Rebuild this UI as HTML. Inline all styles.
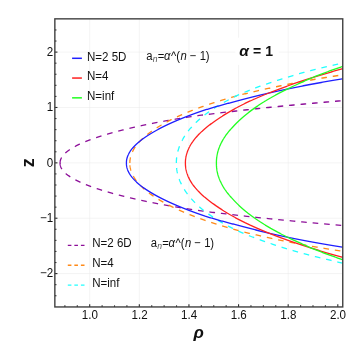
<!DOCTYPE html><html><head><meta charset="utf-8"><style>html,body{margin:0;padding:0;background:#fff}body{width:357px;height:357px;overflow:hidden;position:relative;font-family:"Liberation Sans",sans-serif}</style></head><body><svg width="357" height="357" viewBox="0 0 357 357" style="position:absolute;left:0;top:0;will-change:transform;opacity:0.999">
<defs><clipPath id="cp"><rect x="54.85" y="18.85" width="287.90" height="288.10"/></clipPath></defs>
<g stroke="#e9e9e9" stroke-width="0.5"><line x1="89.70" y1="18.85" x2="89.70" y2="306.95"/><line x1="139.32" y1="18.85" x2="139.32" y2="306.95"/><line x1="188.94" y1="18.85" x2="188.94" y2="306.95"/><line x1="238.56" y1="18.85" x2="238.56" y2="306.95"/><line x1="288.18" y1="18.85" x2="288.18" y2="306.95"/><line x1="54.85" y1="273.59" x2="342.75" y2="273.59"/><line x1="54.85" y1="218.22" x2="342.75" y2="218.22"/><line x1="54.85" y1="162.85" x2="342.75" y2="162.85"/><line x1="54.85" y1="107.48" x2="342.75" y2="107.48"/><line x1="54.85" y1="52.11" x2="342.75" y2="52.11"/></g>
<rect x="235.3" y="37.8" width="43.5" height="27.1" fill="#fff"/>
<g clip-path="url(#cp)" fill="none" stroke-width="1.3">
<path d="M60.10 163.05 L60.09 162.95 L60.09 162.70 L60.09 162.45 L60.10 162.20 L60.12 161.95 L60.14 161.70 L60.18 161.45 L60.21 161.20 L60.26 160.95 L60.31 160.70 L60.37 160.45 L60.44 160.20 L60.51 159.95 L60.59 159.70 L60.67 159.45 L60.77 159.20 L60.87 158.95 L60.98 158.70 L61.09 158.45 L61.21 158.20 L61.34 157.95 L61.48 157.70 L61.62 157.45 L61.77 157.20 L61.92 156.95 L62.09 156.70 L62.26 156.45 L62.44 156.20 L62.62 155.95 L62.81 155.70 L63.01 155.45 L63.22 155.20 L63.43 154.95 L63.65 154.70 L63.88 154.45 L64.12 154.20 L64.36 153.95 L64.61 153.70 L64.87 153.45 L65.13 153.20 L65.40 152.95 L65.68 152.70 L65.96 152.45 L66.26 152.20 L66.56 151.95 L66.87 151.70 L67.18 151.45 L67.50 151.20 L67.83 150.95 L68.17 150.70 L68.51 150.45 L68.87 150.20 L69.23 149.95 L69.59 149.70 L69.97 149.45 L70.35 149.20 L70.74 148.95 L71.14 148.70 L71.54 148.45 L71.95 148.20 L72.37 147.95 L72.80 147.70 L73.23 147.45 L73.68 147.20 L74.13 146.95 L74.58 146.70 L75.05 146.45 L75.52 146.20 L76.00 145.95 L76.49 145.70 L76.99 145.45 L77.49 145.20 L78.00 144.95 L78.52 144.70 L79.05 144.45 L79.58 144.20 L80.13 143.95 L80.68 143.70 L81.23 143.45 L81.80 143.20 L82.37 142.95 L82.95 142.70 L83.54 142.45 L84.14 142.20 L84.74 141.95 L85.36 141.70 L85.98 141.45 L86.60 141.20 L87.24 140.95 L87.88 140.70 L88.54 140.45 L89.19 140.20 L89.86 139.95 L90.54 139.70 L91.22 139.45 L91.91 139.20 L92.61 138.95 L93.32 138.70 L94.03 138.45 L94.75 138.20 L95.48 137.95 L96.22 137.70 L96.97 137.45 L97.72 137.20 L98.49 136.95 L99.26 136.70 L100.03 136.45 L100.82 136.20 L101.61 135.95 L102.42 135.70 L103.23 135.45 L104.05 135.20 L104.87 134.95 L105.71 134.70 L106.55 134.45 L107.40 134.20 L108.26 133.95 L109.13 133.70 L110.00 133.45 L110.88 133.20 L111.78 132.95 L112.68 132.70 L113.58 132.45 L114.50 132.20 L115.43 131.95 L116.36 131.70 L117.30 131.45 L118.25 131.20 L119.21 130.95 L120.18 130.70 L121.16 130.45 L122.14 130.20 L123.14 129.95 L124.14 129.70 L125.15 129.45 L126.17 129.20 L127.20 128.95 L128.24 128.70 L129.29 128.45 L130.34 128.20 L131.41 127.95 L132.49 127.70 L133.57 127.45 L134.67 127.20 L135.77 126.95 L136.89 126.70 L138.01 126.45 L139.14 126.20 L140.29 125.95 L141.44 125.70 L142.61 125.45 L143.78 125.20 L144.97 124.95 L146.17 124.70 L147.38 124.45 L148.59 124.20 L149.82 123.95 L151.06 123.70 L152.32 123.45 L153.58 123.20 L154.86 122.95 L156.15 122.70 L157.45 122.45 L158.76 122.20 L160.08 121.95 L161.42 121.70 L162.77 121.45 L164.13 121.20 L165.51 120.95 L166.90 120.70 L168.30 120.45 L169.72 120.20 L171.15 119.95 L172.60 119.70 L174.06 119.45 L175.53 119.20 L177.02 118.95 L178.53 118.70 L180.05 118.45 L181.59 118.20 L183.14 117.95 L184.71 117.70 L186.29 117.45 L187.89 117.20 L189.51 116.95 L191.15 116.70 L192.80 116.45 L194.47 116.20 L196.16 115.95 L197.87 115.70 L199.59 115.45 L201.33 115.21 L203.10 114.98 L204.88 114.75 L206.68 114.52 L208.50 114.29 L210.34 114.05 L212.20 113.82 L214.08 113.59 L215.98 113.36 L217.91 113.13 L219.85 112.90 L221.82 112.67 L223.80 112.44 L225.81 112.21 L227.84 111.98 L229.89 111.75 L231.97 111.50 L234.06 111.25 L236.18 111.00 L238.33 110.75 L240.49 110.50 L242.68 110.25 L244.89 110.00 L247.12 109.75 L249.38 109.50 L251.66 109.25 L253.96 109.00 L256.29 108.75 L258.63 108.50 L261.01 108.25 L263.40 108.00 L265.82 107.75 L268.26 107.50 L270.72 107.25 L273.21 107.00 L275.71 106.75 L278.24 106.50 L280.79 106.25 L283.36 106.00 L285.95 105.75 L288.56 105.50 L291.20 105.25 L293.85 105.00 L296.52 104.75 L299.20 104.50 L301.91 104.25 L304.63 104.00 L307.36 103.75 L310.11 103.50 L312.88 103.25 L315.66 103.00 L318.45 102.75 L321.25 102.50 L324.06 102.25 L326.87 102.00 L329.70 101.75 L332.53 101.50 L335.36 101.25 L338.20 101.00 L341.03 100.75 L343.86 100.50 L346.70 100.25 L349.52 100.00 L352.34 99.75" stroke="#8d0f99" stroke-dasharray="5.80 5.88 5.65 5.88 5.65 5.88 5.65 5.88 5.65 5.88 5.65 5.88 5.65 5.88 5.65 5.88 5.65 5.88 5.65 5.88 5.65 5.88 5.65 5.88 5.65 5.88 5.65 5.88 5.65 5.88 5.65 5.88 5.65 5.88 5.65 5.88 5.65 5.88 5.65 5.88 5.65 5.88 5.65 5.88 5.65 5.88 5.65 5.88 5.65 5.88 5.65 5.88 5.65 5.88 5.65 5.88 5.65 5.88 5.65 5.88 5.65 5.88 5.65 5.88 5.65 5.88 5.65 5.88 5.65 5.88 5.65 5.88 5.65 5.88 5.65 5.88 5.65 5.88 5.65 5.88 5.65 5.88" stroke-linejoin="round"/>
<path d="M60.10 163.05 L60.09 163.15 L60.09 163.40 L60.09 163.65 L60.10 163.90 L60.12 164.15 L60.14 164.40 L60.18 164.65 L60.21 164.90 L60.26 165.15 L60.31 165.40 L60.37 165.65 L60.44 165.90 L60.51 166.15 L60.59 166.40 L60.67 166.65 L60.77 166.90 L60.87 167.15 L60.98 167.40 L61.09 167.65 L61.21 167.90 L61.34 168.15 L61.48 168.40 L61.62 168.65 L61.77 168.90 L61.92 169.15 L62.09 169.40 L62.26 169.65 L62.44 169.90 L62.62 170.15 L62.81 170.40 L63.01 170.65 L63.22 170.90 L63.43 171.15 L63.65 171.40 L63.88 171.65 L64.12 171.90 L64.36 172.15 L64.61 172.40 L64.87 172.65 L65.13 172.90 L65.40 173.15 L65.68 173.40 L65.96 173.65 L66.26 173.90 L66.56 174.15 L66.87 174.40 L67.18 174.65 L67.50 174.90 L67.83 175.15 L68.17 175.40 L68.51 175.65 L68.87 175.90 L69.23 176.15 L69.59 176.40 L69.97 176.65 L70.35 176.90 L70.74 177.15 L71.14 177.40 L71.54 177.65 L71.95 177.90 L72.37 178.15 L72.80 178.40 L73.23 178.65 L73.68 178.90 L74.13 179.15 L74.58 179.40 L75.05 179.65 L75.52 179.90 L76.00 180.15 L76.49 180.40 L76.99 180.65 L77.49 180.90 L78.00 181.15 L78.52 181.40 L79.05 181.65 L79.58 181.90 L80.13 182.15 L80.68 182.40 L81.23 182.65 L81.80 182.90 L82.37 183.15 L82.95 183.40 L83.54 183.65 L84.14 183.90 L84.74 184.15 L85.36 184.40 L85.98 184.65 L86.60 184.90 L87.24 185.15 L87.88 185.40 L88.54 185.65 L89.19 185.90 L89.86 186.15 L90.54 186.40 L91.22 186.65 L91.91 186.90 L92.61 187.15 L93.32 187.40 L94.03 187.65 L94.75 187.90 L95.48 188.15 L96.22 188.40 L96.97 188.65 L97.72 188.90 L98.49 189.15 L99.26 189.40 L100.03 189.65 L100.82 189.90 L101.61 190.15 L102.42 190.40 L103.23 190.65 L104.05 190.90 L104.87 191.15 L105.71 191.40 L106.55 191.65 L107.40 191.90 L108.26 192.15 L109.13 192.40 L110.00 192.65 L110.88 192.90 L111.78 193.15 L112.68 193.40 L113.58 193.65 L114.50 193.90 L115.43 194.15 L116.36 194.40 L117.30 194.65 L118.25 194.90 L119.21 195.15 L120.18 195.40 L121.16 195.65 L122.14 195.90 L123.14 196.15 L124.14 196.40 L125.15 196.65 L126.17 196.90 L127.20 197.15 L128.24 197.40 L129.29 197.65 L130.34 197.90 L131.41 198.15 L132.49 198.40 L133.57 198.65 L134.67 198.90 L135.77 199.15 L136.89 199.40 L138.01 199.65 L139.14 199.90 L140.29 200.15 L141.44 200.40 L142.61 200.65 L143.78 200.90 L144.97 201.15 L146.17 201.40 L147.38 201.65 L148.59 201.90 L149.82 202.15 L151.06 202.40 L152.32 202.65 L153.58 202.90 L154.86 203.15 L156.15 203.40 L157.45 203.65 L158.76 203.90 L160.08 204.15 L161.42 204.40 L162.77 204.65 L164.13 204.90 L165.51 205.15 L166.90 205.40 L168.30 205.65 L169.72 205.90 L171.15 206.15 L172.60 206.40 L174.06 206.65 L175.53 206.90 L177.02 207.15 L178.53 207.40 L180.05 207.65 L181.59 207.90 L183.14 208.15 L184.71 208.40 L186.29 208.65 L187.89 208.90 L189.51 209.15 L191.15 209.40 L192.80 209.65 L194.47 209.90 L196.16 210.15 L197.87 210.40 L199.59 210.65 L201.33 210.89 L203.10 211.12 L204.88 211.35 L206.68 211.58 L208.50 211.81 L210.34 212.05 L212.20 212.28 L214.08 212.51 L215.98 212.74 L217.91 212.97 L219.85 213.20 L221.82 213.43 L223.80 213.66 L225.81 213.89 L227.84 214.12 L229.89 214.35 L231.97 214.60 L234.06 214.85 L236.18 215.10 L238.33 215.35 L240.49 215.60 L242.68 215.85 L244.89 216.10 L247.12 216.35 L249.38 216.60 L251.66 216.85 L253.96 217.10 L256.29 217.35 L258.63 217.60 L261.01 217.85 L263.40 218.10 L265.82 218.35 L268.26 218.60 L270.72 218.85 L273.21 219.10 L275.71 219.35 L278.24 219.60 L280.79 219.85 L283.36 220.10 L285.95 220.35 L288.56 220.60 L291.20 220.85 L293.85 221.10 L296.52 221.35 L299.20 221.60 L301.91 221.85 L304.63 222.10 L307.36 222.35 L310.11 222.60 L312.88 222.85 L315.66 223.10 L318.45 223.35 L321.25 223.60 L324.06 223.85 L326.87 224.10 L329.70 224.35 L332.53 224.60 L335.36 224.85 L338.20 225.10 L341.03 225.35 L343.86 225.60 L346.70 225.85 L349.52 226.10 L352.34 226.35" stroke="#8d0f99" stroke-dasharray="6.40 5.88 5.65 5.88 5.65 5.88 5.65 5.88 5.65 5.88 5.65 5.88 5.65 5.88 5.65 5.88 5.65 5.88 5.65 5.88 5.65 5.88 5.65 5.88 5.65 5.88 5.65 5.88 5.65 5.88 5.65 5.88 5.65 5.88 5.65 5.88 5.65 5.88 5.65 5.88 5.65 5.88 5.65 5.88 5.65 5.88 5.65 5.88 5.65 5.88 5.65 5.88 5.65 5.88 5.65 5.88 5.65 5.88 5.65 5.88 5.65 5.88 5.65 5.88 5.65 5.88 5.65 5.88 5.65 5.88 5.65 5.88 5.65 5.88 5.65 5.88 5.65 5.88 5.65 5.88 5.65 5.88" stroke-linejoin="round"/>
<path d="M129.86 163.00 L129.86 162.95 L129.86 162.70 L129.86 162.45 L129.87 162.20 L129.87 161.95 L129.88 161.70 L129.90 161.45 L129.91 161.20 L129.93 160.95 L129.95 160.70 L129.97 160.45 L130.00 160.20 L130.02 159.95 L130.06 159.70 L130.09 159.45 L130.13 159.20 L130.16 158.95 L130.21 158.70 L130.25 158.45 L130.30 158.20 L130.35 157.95 L130.40 157.70 L130.45 157.45 L130.51 157.20 L130.57 156.95 L130.64 156.70 L130.70 156.45 L130.77 156.20 L130.84 155.95 L130.92 155.70 L130.99 155.45 L131.07 155.20 L131.16 154.95 L131.24 154.70 L131.33 154.45 L131.42 154.20 L131.51 153.95 L131.61 153.70 L131.71 153.45 L131.81 153.20 L131.91 152.95 L132.02 152.70 L132.13 152.45 L132.24 152.20 L132.35 151.95 L132.47 151.70 L132.59 151.45 L132.71 151.20 L132.84 150.95 L132.97 150.70 L133.10 150.45 L133.23 150.20 L133.37 149.95 L133.51 149.70 L133.65 149.45 L133.80 149.20 L133.94 148.95 L134.09 148.70 L134.25 148.45 L134.40 148.20 L134.56 147.95 L134.72 147.70 L134.89 147.45 L135.06 147.20 L135.22 146.95 L135.40 146.70 L135.57 146.45 L135.75 146.20 L135.93 145.95 L136.12 145.70 L136.30 145.45 L136.49 145.20 L136.68 144.95 L136.88 144.70 L137.08 144.45 L137.28 144.20 L137.48 143.95 L137.69 143.70 L137.89 143.45 L138.11 143.20 L138.32 142.95 L138.54 142.70 L138.76 142.45 L138.98 142.20 L139.21 141.95 L139.44 141.70 L139.67 141.45 L139.90 141.20 L140.14 140.95 L140.38 140.70 L140.62 140.45 L140.87 140.20 L141.12 139.95 L141.37 139.70 L141.62 139.45 L141.88 139.20 L142.14 138.95 L142.40 138.70 L142.67 138.45 L142.94 138.20 L143.21 137.95 L143.48 137.70 L143.76 137.45 L144.04 137.20 L144.32 136.95 L144.61 136.70 L144.90 136.45 L145.19 136.20 L145.49 135.95 L145.78 135.70 L146.08 135.45 L146.39 135.20 L146.70 134.95 L147.01 134.70 L147.32 134.45 L147.63 134.20 L147.95 133.95 L148.27 133.70 L148.60 133.45 L148.93 133.20 L149.26 132.95 L149.59 132.70 L149.93 132.45 L150.27 132.20 L150.61 131.95 L150.96 131.70 L151.30 131.45 L151.66 131.20 L152.01 130.95 L152.37 130.70 L152.73 130.45 L153.09 130.20 L153.46 129.95 L153.83 129.70 L154.20 129.45 L154.58 129.20 L154.96 128.95 L155.34 128.70 L155.73 128.45 L156.12 128.20 L156.51 127.95 L156.90 127.70 L157.30 127.45 L157.70 127.20 L158.11 126.95 L158.52 126.70 L158.93 126.45 L159.34 126.20 L159.76 125.95 L160.18 125.70 L160.60 125.45 L161.03 125.20 L161.46 124.95 L161.89 124.70 L162.33 124.45 L162.77 124.20 L163.21 123.95 L163.66 123.70 L164.11 123.45 L164.56 123.20 L165.02 122.95 L165.48 122.70 L165.94 122.45 L166.41 122.20 L166.88 121.95 L167.35 121.70 L167.83 121.45 L168.30 121.20 L168.79 120.95 L169.27 120.70 L169.76 120.45 L170.26 120.20 L170.75 119.95 L171.25 119.70 L171.76 119.45 L172.26 119.20 L172.77 118.95 L173.29 118.70 L173.81 118.45 L174.33 118.20 L174.85 117.95 L175.38 117.70 L175.91 117.45 L176.44 117.20 L176.98 116.95 L177.53 116.70 L178.07 116.45 L178.62 116.20 L179.17 115.95 L179.73 115.70 L180.29 115.45 L180.85 115.20 L181.42 114.95 L181.99 114.70 L182.57 114.45 L183.15 114.20 L183.73 113.95 L184.31 113.70 L184.90 113.45 L185.50 113.20 L186.09 112.95 L186.70 112.70 L187.30 112.45 L187.91 112.20 L188.52 111.95 L189.14 111.70 L189.76 111.45 L190.38 111.20 L191.01 110.95 L191.65 110.70 L192.28 110.45 L192.92 110.20 L193.57 109.95 L194.22 109.70 L194.87 109.45 L195.52 109.20 L196.18 108.95 L196.85 108.70 L197.52 108.45 L198.19 108.20 L198.87 107.95 L199.55 107.70 L200.24 107.45 L200.93 107.20 L201.62 106.95 L202.32 106.70 L203.02 106.45 L203.73 106.20 L204.44 105.95 L205.16 105.70 L205.88 105.45 L206.60 105.20 L207.33 104.95 L208.06 104.70 L208.80 104.45 L209.54 104.20 L210.29 103.95 L211.04 103.70 L211.80 103.45 L212.56 103.20 L213.33 102.95 L214.10 102.70 L214.87 102.45 L215.65 102.20 L216.44 101.95 L217.23 101.70 L218.02 101.45 L218.82 101.20 L219.63 100.95 L220.44 100.70 L221.25 100.45 L222.07 100.20 L222.89 99.95 L223.72 99.70 L224.56 99.45 L225.40 99.20 L226.24 98.95 L227.09 98.70 L227.95 98.45 L228.81 98.20 L229.68 97.95 L230.55 97.70 L231.43 97.45 L232.31 97.20 L233.20 96.95 L234.09 96.70 L234.99 96.45 L235.90 96.20 L236.81 95.95 L237.72 95.70 L238.65 95.45 L239.57 95.20 L240.51 94.96 L241.45 94.71 L242.39 94.47 L243.35 94.23 L244.30 93.99 L245.27 93.75 L246.24 93.51 L247.22 93.27 L248.20 93.03 L249.19 92.79 L250.18 92.55 L251.19 92.31 L252.19 92.07 L253.21 91.83 L254.23 91.59 L255.26 91.35 L256.30 91.11 L257.34 90.87 L258.39 90.63 L259.44 90.39 L260.51 90.16 L261.57 89.92 L262.65 89.68 L263.74 89.44 L264.83 89.20 L265.93 88.96 L267.03 88.72 L268.15 88.48 L269.27 88.24 L270.39 88.00 L271.53 87.75 L272.68 87.50 L273.83 87.25 L274.99 87.00 L276.15 86.75 L277.33 86.50 L278.51 86.25 L279.71 86.00 L280.91 85.75 L282.11 85.50 L283.33 85.25 L284.56 85.00 L285.79 84.75 L287.03 84.50 L288.28 84.25 L289.54 84.00 L290.81 83.75 L292.09 83.50 L293.38 83.25 L294.68 83.00 L295.98 82.75 L297.30 82.50 L298.62 82.25 L299.96 82.00 L301.30 81.75 L302.65 81.50 L304.02 81.25 L305.39 81.00 L306.78 80.75 L308.17 80.50 L309.57 80.25 L310.99 80.00 L312.41 79.75 L313.85 79.50 L315.30 79.25 L316.76 79.00 L318.22 78.75 L319.70 78.50 L321.20 78.25 L322.70 78.00 L324.21 77.75 L325.74 77.50 L327.28 77.25 L328.82 77.00 L330.39 76.75 L331.96 76.50 L333.54 76.25 L335.14 76.00 L336.75 75.75 L338.38 75.50 L340.01 75.25 L341.66 75.00 L343.32 74.75 L345.00 74.50 L346.69 74.25 L348.39 74.00 L350.11 73.75 L351.84 73.50" stroke="#ff8a18" stroke-dasharray="5.65 5.88" stroke-linejoin="round"/>
<path d="M129.93 165.20 L129.95 165.40 L129.97 165.65 L130.00 165.90 L130.02 166.15 L130.06 166.40 L130.09 166.65 L130.13 166.90 L130.16 167.15 L130.21 167.40 L130.25 167.65 L130.30 167.90 L130.35 168.15 L130.40 168.40 L130.45 168.65 L130.51 168.90 L130.57 169.15 L130.64 169.40 L130.70 169.65 L130.77 169.90 L130.84 170.15 L130.92 170.40 L130.99 170.65 L131.07 170.90 L131.16 171.15 L131.24 171.40 L131.33 171.65 L131.42 171.90 L131.51 172.15 L131.61 172.40 L131.71 172.65 L131.81 172.90 L131.91 173.15 L132.02 173.40 L132.13 173.65 L132.24 173.90 L132.35 174.15 L132.47 174.40 L132.59 174.65 L132.71 174.90 L132.84 175.15 L132.97 175.40 L133.10 175.65 L133.23 175.90 L133.37 176.15 L133.51 176.40 L133.65 176.65 L133.80 176.90 L133.94 177.15 L134.09 177.40 L134.25 177.65 L134.40 177.90 L134.56 178.15 L134.72 178.40 L134.89 178.65 L135.06 178.90 L135.22 179.15 L135.40 179.40 L135.57 179.65 L135.75 179.90 L135.93 180.15 L136.12 180.40 L136.30 180.65 L136.49 180.90 L136.68 181.15 L136.88 181.40 L137.08 181.65 L137.28 181.90 L137.48 182.15 L137.69 182.40 L137.89 182.65 L138.11 182.90 L138.32 183.15 L138.54 183.40 L138.76 183.65 L138.98 183.90 L139.21 184.15 L139.44 184.40 L139.67 184.65 L139.90 184.90 L140.14 185.15 L140.38 185.40 L140.62 185.65 L140.87 185.90 L141.12 186.15 L141.37 186.40 L141.62 186.65 L141.88 186.90 L142.14 187.15 L142.40 187.40 L142.67 187.65 L142.94 187.90 L143.21 188.15 L143.48 188.40 L143.76 188.65 L144.04 188.90 L144.32 189.15 L144.61 189.40 L144.90 189.65 L145.19 189.90 L145.49 190.15 L145.78 190.40 L146.08 190.65 L146.39 190.90 L146.70 191.15 L147.01 191.40 L147.32 191.65 L147.63 191.90 L147.95 192.15 L148.27 192.40 L148.60 192.65 L148.93 192.90 L149.26 193.15 L149.59 193.40 L149.93 193.65 L150.27 193.90 L150.61 194.15 L150.96 194.40 L151.30 194.65 L151.66 194.90 L152.01 195.15 L152.37 195.40 L152.73 195.65 L153.09 195.90 L153.46 196.15 L153.83 196.40 L154.20 196.65 L154.58 196.90 L154.96 197.15 L155.34 197.40 L155.73 197.65 L156.12 197.90 L156.51 198.15 L156.90 198.40 L157.30 198.65 L157.70 198.90 L158.11 199.15 L158.52 199.40 L158.93 199.65 L159.34 199.90 L159.76 200.15 L160.18 200.40 L160.60 200.65 L161.03 200.90 L161.46 201.15 L161.89 201.40 L162.33 201.65 L162.77 201.90 L163.21 202.15 L163.66 202.40 L164.11 202.65 L164.56 202.90 L165.02 203.15 L165.48 203.40 L165.94 203.65 L166.41 203.90 L166.88 204.15 L167.35 204.40 L167.83 204.65 L168.30 204.90 L168.79 205.15 L169.27 205.40 L169.76 205.65 L170.26 205.90 L170.75 206.15 L171.25 206.40 L171.76 206.65 L172.26 206.90 L172.77 207.15 L173.29 207.40 L173.81 207.65 L174.33 207.90 L174.85 208.15 L175.38 208.40 L175.91 208.65 L176.44 208.90 L176.98 209.15 L177.53 209.40 L178.07 209.65 L178.62 209.90 L179.17 210.15 L179.73 210.40 L180.29 210.65 L180.85 210.90 L181.42 211.15 L181.99 211.40 L182.57 211.65 L183.15 211.90 L183.73 212.15 L184.31 212.40 L184.90 212.65 L185.50 212.90 L186.09 213.15 L186.70 213.40 L187.30 213.65 L187.91 213.90 L188.52 214.15 L189.14 214.40 L189.76 214.65 L190.38 214.90 L191.01 215.15 L191.65 215.40 L192.28 215.65 L192.92 215.90 L193.57 216.15 L194.22 216.40 L194.87 216.65 L195.52 216.90 L196.18 217.15 L196.85 217.40 L197.52 217.65 L198.19 217.90 L198.87 218.15 L199.55 218.40 L200.24 218.65 L200.93 218.90 L201.62 219.15 L202.32 219.40 L203.02 219.65 L203.73 219.90 L204.44 220.15 L205.16 220.40 L205.88 220.65 L206.60 220.90 L207.33 221.15 L208.06 221.40 L208.80 221.65 L209.54 221.90 L210.29 222.15 L211.04 222.40 L211.80 222.65 L212.56 222.90 L213.33 223.15 L214.10 223.40 L214.87 223.65 L215.65 223.90 L216.44 224.15 L217.23 224.40 L218.02 224.65 L218.82 224.90 L219.63 225.15 L220.44 225.40 L221.25 225.65 L222.07 225.90 L222.89 226.15 L223.72 226.40 L224.56 226.65 L225.40 226.90 L226.24 227.15 L227.09 227.40 L227.95 227.65 L228.81 227.90 L229.68 228.15 L230.55 228.40 L231.43 228.65 L232.31 228.90 L233.20 229.15 L234.09 229.40 L234.99 229.65 L235.90 229.90 L236.81 230.15 L237.72 230.40 L238.65 230.65 L239.57 230.90 L240.51 231.14 L241.45 231.39 L242.39 231.63 L243.35 231.87 L244.30 232.11 L245.27 232.35 L246.24 232.59 L247.22 232.83 L248.20 233.07 L249.19 233.31 L250.18 233.55 L251.19 233.79 L252.19 234.03 L253.21 234.27 L254.23 234.51 L255.26 234.75 L256.30 234.99 L257.34 235.23 L258.39 235.47 L259.44 235.71 L260.51 235.94 L261.57 236.18 L262.65 236.42 L263.74 236.66 L264.83 236.90 L265.93 237.14 L267.03 237.38 L268.15 237.62 L269.27 237.86 L270.39 238.10 L271.53 238.35 L272.68 238.60 L273.83 238.85 L274.99 239.10 L276.15 239.35 L277.33 239.60 L278.51 239.85 L279.71 240.10 L280.91 240.35 L282.11 240.60 L283.33 240.85 L284.56 241.10 L285.79 241.35 L287.03 241.60 L288.28 241.85 L289.54 242.10 L290.81 242.35 L292.09 242.60 L293.38 242.85 L294.68 243.10 L295.98 243.35 L297.30 243.60 L298.62 243.85 L299.96 244.10 L301.30 244.35 L302.65 244.60 L304.02 244.85 L305.39 245.10 L306.78 245.35 L308.17 245.60 L309.57 245.85 L310.99 246.10 L312.41 246.35 L313.85 246.60 L315.30 246.85 L316.76 247.10 L318.22 247.35 L319.70 247.60 L321.20 247.85 L322.70 248.10 L324.21 248.35 L325.74 248.60 L327.28 248.85 L328.82 249.10 L330.39 249.35 L331.96 249.60 L333.54 249.85 L335.14 250.10 L336.75 250.35 L338.38 250.60 L340.01 250.85 L341.66 251.10 L343.32 251.35 L345.00 251.60 L346.69 251.85 L348.39 252.10 L350.11 252.35 L351.84 252.60" stroke="#ff8a18" stroke-dasharray="5.65 5.88" stroke-linejoin="round"/>
<path d="M176.36 163.00 L176.36 162.95 L176.36 162.70 L176.36 162.45 L176.37 162.20 L176.37 161.95 L176.37 161.70 L176.38 161.45 L176.39 161.20 L176.40 160.95 L176.41 160.70 L176.42 160.45 L176.43 160.20 L176.45 159.95 L176.47 159.70 L176.48 159.45 L176.50 159.20 L176.52 158.95 L176.55 158.70 L176.57 158.45 L176.59 158.20 L176.62 157.95 L176.65 157.70 L176.68 157.45 L176.71 157.20 L176.74 156.95 L176.78 156.70 L176.81 156.45 L176.85 156.20 L176.89 155.95 L176.92 155.70 L176.97 155.45 L177.01 155.20 L177.05 154.95 L177.10 154.70 L177.14 154.45 L177.19 154.20 L177.24 153.95 L177.29 153.70 L177.34 153.45 L177.40 153.20 L177.45 152.95 L177.51 152.70 L177.57 152.45 L177.63 152.20 L177.69 151.95 L177.75 151.70 L177.82 151.45 L177.88 151.20 L177.95 150.95 L178.02 150.70 L178.09 150.45 L178.16 150.20 L178.23 149.95 L178.31 149.70 L178.38 149.45 L178.46 149.20 L178.54 148.95 L178.62 148.70 L178.70 148.45 L178.79 148.20 L178.87 147.95 L178.96 147.70 L179.05 147.45 L179.14 147.20 L179.23 146.95 L179.32 146.70 L179.41 146.45 L179.51 146.20 L179.60 145.95 L179.70 145.70 L179.80 145.45 L179.90 145.20 L180.01 144.95 L180.11 144.70 L180.22 144.45 L180.33 144.20 L180.44 143.95 L180.55 143.70 L180.66 143.45 L180.77 143.20 L180.89 142.95 L181.00 142.70 L181.12 142.45 L181.24 142.20 L181.36 141.95 L181.49 141.70 L181.61 141.45 L181.74 141.20 L181.87 140.95 L181.99 140.70 L182.13 140.45 L182.26 140.20 L182.39 139.95 L182.53 139.70 L182.67 139.45 L182.80 139.20 L182.94 138.95 L183.09 138.70 L183.23 138.45 L183.38 138.20 L183.52 137.95 L183.67 137.70 L183.82 137.45 L183.97 137.20 L184.13 136.95 L184.28 136.70 L184.44 136.45 L184.60 136.20 L184.76 135.95 L184.92 135.70 L185.08 135.45 L185.25 135.20 L185.41 134.95 L185.58 134.70 L185.75 134.45 L185.92 134.20 L186.10 133.95 L186.27 133.70 L186.45 133.45 L186.63 133.20 L186.81 132.95 L186.99 132.70 L187.17 132.45 L187.36 132.20 L187.54 131.95 L187.73 131.70 L187.92 131.45 L188.12 131.20 L188.31 130.95 L188.51 130.70 L188.70 130.45 L188.90 130.20 L189.10 129.95 L189.31 129.70 L189.51 129.45 L189.72 129.20 L189.93 128.95 L190.14 128.70 L190.35 128.45 L190.56 128.20 L190.78 127.95 L190.99 127.70 L191.21 127.45 L191.43 127.20 L191.66 126.95 L191.88 126.70 L192.11 126.45 L192.33 126.20 L192.56 125.95 L192.80 125.70 L193.03 125.45 L193.27 125.20 L193.50 124.95 L193.74 124.70 L193.98 124.45 L194.23 124.20 L194.47 123.95 L194.72 123.70 L194.97 123.45 L195.22 123.20 L195.47 122.95 L195.73 122.70 L195.99 122.45 L196.24 122.20 L196.51 121.95 L196.77 121.70 L197.03 121.45 L197.30 121.20 L197.57 120.95 L197.84 120.70 L198.11 120.45 L198.39 120.20 L198.66 119.95 L198.94 119.70 L199.22 119.45 L199.51 119.20 L199.79 118.95 L200.08 118.70 L200.37 118.45 L200.66 118.20 L200.96 117.95 L201.25 117.70 L201.55 117.45 L201.85 117.20 L202.15 116.95 L202.46 116.70 L202.76 116.45 L203.07 116.20 L203.38 115.95 L203.69 115.70 L204.01 115.45 L204.33 115.20 L204.65 114.95 L204.97 114.70 L205.29 114.45 L205.62 114.20 L205.95 113.95 L206.28 113.70 L206.61 113.45 L206.95 113.20 L207.29 112.95 L207.63 112.70 L207.97 112.45 L208.31 112.20 L208.66 111.95 L209.01 111.70 L209.36 111.45 L209.72 111.20 L210.07 110.95 L210.43 110.70 L210.79 110.45 L211.16 110.20 L211.52 109.95 L211.89 109.70 L212.26 109.45 L212.64 109.20 L213.01 108.95 L213.39 108.70 L213.77 108.45 L214.16 108.20 L214.54 107.95 L214.93 107.70 L215.32 107.45 L215.72 107.20 L216.11 106.95 L216.51 106.70 L216.91 106.45 L217.32 106.20 L217.73 105.95 L218.14 105.70 L218.55 105.45 L218.96 105.20 L219.38 104.95 L219.80 104.70 L220.22 104.45 L220.65 104.20 L221.08 103.95 L221.51 103.70 L221.94 103.45 L222.38 103.20 L222.82 102.95 L223.26 102.70 L223.71 102.45 L224.15 102.20 L224.60 101.95 L225.06 101.70 L225.51 101.45 L225.97 101.20 L226.44 100.95 L226.90 100.70 L227.37 100.45 L227.84 100.20 L228.31 99.95 L228.79 99.70 L229.27 99.45 L229.75 99.20 L230.24 98.95 L230.73 98.70 L231.22 98.45 L231.72 98.20 L232.22 97.95 L232.72 97.70 L233.22 97.45 L233.73 97.20 L234.24 96.95 L234.76 96.70 L235.27 96.45 L235.79 96.20 L236.32 95.95 L236.84 95.70 L237.37 95.45 L237.91 95.20 L238.44 94.95 L238.98 94.70 L239.53 94.45 L240.08 94.20 L240.63 93.96 L241.18 93.72 L241.74 93.47 L242.30 93.23 L242.86 92.99 L243.43 92.75 L244.00 92.50 L244.57 92.26 L245.15 92.02 L245.73 91.78 L246.32 91.53 L246.91 91.29 L247.50 91.05 L248.09 90.81 L248.69 90.57 L249.30 90.32 L249.90 90.08 L250.51 89.84 L251.13 89.60 L251.75 89.36 L252.37 89.11 L252.99 88.87 L253.62 88.63 L254.26 88.39 L254.89 88.15 L255.54 87.91 L256.18 87.67 L256.83 87.42 L257.48 87.18 L258.14 86.94 L258.80 86.70 L259.46 86.46 L260.13 86.22 L260.81 85.98 L261.48 85.74 L262.16 85.50 L262.85 85.25 L263.54 85.01 L264.23 84.77 L264.93 84.53 L265.63 84.29 L266.34 84.05 L267.05 83.81 L267.76 83.57 L268.48 83.33 L269.20 83.09 L269.93 82.85 L270.66 82.60 L271.40 82.34 L272.14 82.09 L272.89 81.84 L273.64 81.59 L274.39 81.33 L275.15 81.08 L275.91 80.83 L276.68 80.57 L277.45 80.32 L278.23 80.07 L279.01 79.81 L279.80 79.56 L280.59 79.31 L281.39 79.05 L282.19 78.80 L282.99 78.55 L283.81 78.29 L284.62 78.04 L285.44 77.79 L286.27 77.53 L287.10 77.28 L287.93 77.03 L288.77 76.77 L289.62 76.52 L290.47 76.27 L291.32 76.01 L292.18 75.76 L293.05 75.51 L293.92 75.25 L294.80 75.00 L295.68 74.75 L296.57 74.49 L297.46 74.24 L298.36 73.99 L299.26 73.73 L300.17 73.48 L301.08 73.23 L302.00 72.97 L302.92 72.72 L303.85 72.46 L304.79 72.21 L305.73 71.96 L306.68 71.70 L307.63 71.45 L308.59 71.20 L309.55 70.94 L310.52 70.69 L311.50 70.43 L312.48 70.18 L313.47 69.93 L314.46 69.67 L315.46 69.42 L316.47 69.16 L317.48 68.91 L318.50 68.66 L319.52 68.40 L320.55 68.15 L321.58 67.89 L322.63 67.64 L323.67 67.39 L324.73 67.13 L325.79 66.88 L326.86 66.62 L327.93 66.37 L329.01 66.11 L330.09 65.86 L331.19 65.61 L332.29 65.35 L333.39 65.10 L334.50 64.84 L335.62 64.59 L336.75 64.33 L337.88 64.08 L339.02 63.82 L340.17 63.57 L341.32 63.31 L342.48 63.06 L343.65 62.81 L344.82 62.55 L346.00 62.30 L347.19 62.05 L348.38 61.80 L349.58 61.55 L350.79 61.30" stroke="#20ffff" stroke-dasharray="5.65 5.88" stroke-linejoin="round"/>
<path d="M176.59 167.89 L176.59 167.90 L176.62 168.15 L176.65 168.40 L176.68 168.65 L176.71 168.90 L176.74 169.15 L176.78 169.40 L176.81 169.65 L176.85 169.90 L176.89 170.15 L176.92 170.40 L176.97 170.65 L177.01 170.90 L177.05 171.15 L177.10 171.40 L177.14 171.65 L177.19 171.90 L177.24 172.15 L177.29 172.40 L177.34 172.65 L177.40 172.90 L177.45 173.15 L177.51 173.40 L177.57 173.65 L177.63 173.90 L177.69 174.15 L177.75 174.40 L177.82 174.65 L177.88 174.90 L177.95 175.15 L178.02 175.40 L178.09 175.65 L178.16 175.90 L178.23 176.15 L178.31 176.40 L178.38 176.65 L178.46 176.90 L178.54 177.15 L178.62 177.40 L178.70 177.65 L178.79 177.90 L178.87 178.15 L178.96 178.40 L179.05 178.65 L179.14 178.90 L179.23 179.15 L179.32 179.40 L179.41 179.65 L179.51 179.90 L179.60 180.15 L179.70 180.40 L179.80 180.65 L179.90 180.90 L180.01 181.15 L180.11 181.40 L180.22 181.65 L180.33 181.90 L180.44 182.15 L180.55 182.40 L180.66 182.65 L180.77 182.90 L180.89 183.15 L181.00 183.40 L181.12 183.65 L181.24 183.90 L181.36 184.15 L181.49 184.40 L181.61 184.65 L181.74 184.90 L181.87 185.15 L181.99 185.40 L182.13 185.65 L182.26 185.90 L182.39 186.15 L182.53 186.40 L182.67 186.65 L182.80 186.90 L182.94 187.15 L183.09 187.40 L183.23 187.65 L183.38 187.90 L183.52 188.15 L183.67 188.40 L183.82 188.65 L183.97 188.90 L184.13 189.15 L184.28 189.40 L184.44 189.65 L184.60 189.90 L184.76 190.15 L184.92 190.40 L185.08 190.65 L185.25 190.90 L185.41 191.15 L185.58 191.40 L185.75 191.65 L185.92 191.90 L186.10 192.15 L186.27 192.40 L186.45 192.65 L186.63 192.90 L186.81 193.15 L186.99 193.40 L187.17 193.65 L187.36 193.90 L187.54 194.15 L187.73 194.40 L187.92 194.65 L188.12 194.90 L188.31 195.15 L188.51 195.40 L188.70 195.65 L188.90 195.90 L189.10 196.15 L189.31 196.40 L189.51 196.65 L189.72 196.90 L189.93 197.15 L190.14 197.40 L190.35 197.65 L190.56 197.90 L190.78 198.15 L190.99 198.40 L191.21 198.65 L191.43 198.90 L191.66 199.15 L191.88 199.40 L192.11 199.65 L192.33 199.90 L192.56 200.15 L192.80 200.40 L193.03 200.65 L193.27 200.90 L193.50 201.15 L193.74 201.40 L193.98 201.65 L194.23 201.90 L194.47 202.15 L194.72 202.40 L194.97 202.65 L195.22 202.90 L195.47 203.15 L195.73 203.40 L195.99 203.65 L196.24 203.90 L196.51 204.15 L196.77 204.40 L197.03 204.65 L197.30 204.90 L197.57 205.15 L197.84 205.40 L198.11 205.65 L198.39 205.90 L198.66 206.15 L198.94 206.40 L199.22 206.65 L199.51 206.90 L199.79 207.15 L200.08 207.40 L200.37 207.65 L200.66 207.90 L200.96 208.15 L201.25 208.40 L201.55 208.65 L201.85 208.90 L202.15 209.15 L202.46 209.40 L202.76 209.65 L203.07 209.90 L203.38 210.15 L203.69 210.40 L204.01 210.65 L204.33 210.90 L204.65 211.15 L204.97 211.40 L205.29 211.65 L205.62 211.90 L205.95 212.15 L206.28 212.40 L206.61 212.65 L206.95 212.90 L207.29 213.15 L207.63 213.40 L207.97 213.65 L208.31 213.90 L208.66 214.15 L209.01 214.40 L209.36 214.65 L209.72 214.90 L210.07 215.15 L210.43 215.40 L210.79 215.65 L211.16 215.90 L211.52 216.15 L211.89 216.40 L212.26 216.65 L212.64 216.90 L213.01 217.15 L213.39 217.40 L213.77 217.65 L214.16 217.90 L214.54 218.15 L214.93 218.40 L215.32 218.65 L215.72 218.90 L216.11 219.15 L216.51 219.40 L216.91 219.65 L217.32 219.90 L217.73 220.15 L218.14 220.40 L218.55 220.65 L218.96 220.90 L219.38 221.15 L219.80 221.40 L220.22 221.65 L220.65 221.90 L221.08 222.15 L221.51 222.40 L221.94 222.65 L222.38 222.90 L222.82 223.15 L223.26 223.40 L223.71 223.65 L224.15 223.90 L224.60 224.15 L225.06 224.40 L225.51 224.65 L225.97 224.90 L226.44 225.15 L226.90 225.40 L227.37 225.65 L227.84 225.90 L228.31 226.15 L228.79 226.40 L229.27 226.65 L229.75 226.90 L230.24 227.15 L230.73 227.40 L231.22 227.65 L231.72 227.90 L232.22 228.15 L232.72 228.40 L233.22 228.65 L233.73 228.90 L234.24 229.15 L234.76 229.40 L235.27 229.65 L235.79 229.90 L236.32 230.15 L236.84 230.40 L237.37 230.65 L237.91 230.90 L238.44 231.15 L238.98 231.40 L239.53 231.65 L240.08 231.90 L240.63 232.14 L241.18 232.38 L241.74 232.63 L242.30 232.87 L242.86 233.11 L243.43 233.35 L244.00 233.60 L244.57 233.84 L245.15 234.08 L245.73 234.32 L246.32 234.57 L246.91 234.81 L247.50 235.05 L248.09 235.29 L248.69 235.53 L249.30 235.78 L249.90 236.02 L250.51 236.26 L251.13 236.50 L251.75 236.74 L252.37 236.99 L252.99 237.23 L253.62 237.47 L254.26 237.71 L254.89 237.95 L255.54 238.19 L256.18 238.43 L256.83 238.68 L257.48 238.92 L258.14 239.16 L258.80 239.40 L259.46 239.64 L260.13 239.88 L260.81 240.12 L261.48 240.36 L262.16 240.60 L262.85 240.85 L263.54 241.09 L264.23 241.33 L264.93 241.57 L265.63 241.81 L266.34 242.05 L267.05 242.29 L267.76 242.53 L268.48 242.77 L269.20 243.01 L269.93 243.25 L270.66 243.50 L271.40 243.76 L272.14 244.01 L272.89 244.26 L273.64 244.51 L274.39 244.77 L275.15 245.02 L275.91 245.27 L276.68 245.53 L277.45 245.78 L278.23 246.03 L279.01 246.29 L279.80 246.54 L280.59 246.79 L281.39 247.05 L282.19 247.30 L282.99 247.55 L283.81 247.81 L284.62 248.06 L285.44 248.31 L286.27 248.57 L287.10 248.82 L287.93 249.07 L288.77 249.33 L289.62 249.58 L290.47 249.83 L291.32 250.09 L292.18 250.34 L293.05 250.59 L293.92 250.85 L294.80 251.10 L295.68 251.35 L296.57 251.61 L297.46 251.86 L298.36 252.11 L299.26 252.37 L300.17 252.62 L301.08 252.87 L302.00 253.13 L302.92 253.38 L303.85 253.64 L304.79 253.89 L305.73 254.14 L306.68 254.40 L307.63 254.65 L308.59 254.90 L309.55 255.16 L310.52 255.41 L311.50 255.67 L312.48 255.92 L313.47 256.17 L314.46 256.43 L315.46 256.68 L316.47 256.94 L317.48 257.19 L318.50 257.44 L319.52 257.70 L320.55 257.95 L321.58 258.21 L322.63 258.46 L323.67 258.71 L324.73 258.97 L325.79 259.22 L326.86 259.48 L327.93 259.73 L329.01 259.99 L330.09 260.24 L331.19 260.49 L332.29 260.75 L333.39 261.00 L334.50 261.26 L335.62 261.51 L336.75 261.77 L337.88 262.02 L339.02 262.28 L340.17 262.53 L341.32 262.79 L342.48 263.04 L343.65 263.29 L344.82 263.55 L346.00 263.80 L347.19 264.05 L348.38 264.30 L349.58 264.55 L350.79 264.80" stroke="#20ffff" stroke-dasharray="5.65 5.88" stroke-linejoin="round"/>
<path d="M351.97 77.45 L350.33 77.70 L348.70 77.95 L347.08 78.20 L345.48 78.45 L343.88 78.70 L342.30 78.95 L340.73 79.21 L339.17 79.46 L337.62 79.71 L336.08 79.96 L334.55 80.22 L333.03 80.47 L331.52 80.72 L330.03 80.97 L328.54 81.23 L327.06 81.48 L325.60 81.73 L324.14 81.98 L322.69 82.23 L321.26 82.49 L319.83 82.74 L318.41 82.99 L317.00 83.24 L315.61 83.50 L314.22 83.75 L312.84 84.00 L311.46 84.25 L310.10 84.50 L308.75 84.76 L307.41 85.01 L306.07 85.26 L304.74 85.51 L303.43 85.76 L302.12 86.02 L300.81 86.27 L299.52 86.52 L298.24 86.77 L296.96 87.02 L295.69 87.28 L294.43 87.53 L293.18 87.78 L291.94 88.03 L290.70 88.28 L289.47 88.54 L288.25 88.79 L287.04 89.04 L285.83 89.29 L284.64 89.54 L283.44 89.79 L282.26 90.05 L281.09 90.30 L279.92 90.55 L278.75 90.80 L277.60 91.06 L276.45 91.31 L275.31 91.56 L274.18 91.81 L273.05 92.07 L271.93 92.32 L270.82 92.57 L269.71 92.82 L268.61 93.08 L267.52 93.33 L266.43 93.58 L265.35 93.83 L264.27 94.08 L263.21 94.34 L262.14 94.59 L261.09 94.84 L260.04 95.09 L258.99 95.35 L257.96 95.60 L256.93 95.85 L255.90 96.10 L254.88 96.36 L253.87 96.61 L252.86 96.86 L251.86 97.11 L250.86 97.36 L249.87 97.62 L248.88 97.87 L247.90 98.12 L246.93 98.37 L245.96 98.63 L245.00 98.88 L244.04 99.13 L243.08 99.38 L242.14 99.63 L241.19 99.89 L240.26 100.14 L239.32 100.39 L238.40 100.64 L237.48 100.89 L236.56 101.15 L235.65 101.40 L234.74 101.64 L233.84 101.87 L232.94 102.10 L232.05 102.33 L231.16 102.56 L230.28 102.79 L229.40 103.02 L228.53 103.25 L227.66 103.48 L226.80 103.71 L225.94 103.94 L225.09 104.17 L224.24 104.40 L223.39 104.63 L222.55 104.86 L221.71 105.09 L220.88 105.32 L220.06 105.55 L219.23 105.78 L218.41 106.01 L217.60 106.24 L216.79 106.48 L215.99 106.71 L215.18 106.94 L214.39 107.17 L213.59 107.40 L212.81 107.63 L212.02 107.86 L211.24 108.10 L210.47 108.33 L209.69 108.56 L208.93 108.79 L208.16 109.02 L207.40 109.26 L206.65 109.49 L205.90 109.72 L205.15 109.95 L204.40 110.20 L203.66 110.45 L202.93 110.70 L202.20 110.95 L201.47 111.20 L200.74 111.45 L200.02 111.70 L199.31 111.95 L198.60 112.20 L197.89 112.45 L197.18 112.70 L196.48 112.95 L195.78 113.20 L195.09 113.45 L194.40 113.70 L193.71 113.95 L193.03 114.20 L192.35 114.45 L191.68 114.70 L191.01 114.95 L190.34 115.20 L189.67 115.45 L189.01 115.70 L188.36 115.95 L187.70 116.20 L187.05 116.45 L186.41 116.70 L185.77 116.95 L185.13 117.20 L184.49 117.45 L183.86 117.70 L183.23 117.95 L182.61 118.20 L181.99 118.45 L181.37 118.70 L180.76 118.95 L180.14 119.20 L179.54 119.45 L178.93 119.70 L178.33 119.95 L177.74 120.20 L177.14 120.45 L176.55 120.70 L175.97 120.95 L175.39 121.20 L174.81 121.45 L174.23 121.70 L173.66 121.95 L173.09 122.20 L172.52 122.45 L171.96 122.70 L171.40 122.95 L170.85 123.20 L170.30 123.45 L169.75 123.70 L169.20 123.95 L168.66 124.20 L168.12 124.45 L167.59 124.70 L167.06 124.95 L166.53 125.20 L166.01 125.45 L165.48 125.70 L164.97 125.95 L164.45 126.20 L163.94 126.45 L163.43 126.70 L162.93 126.95 L162.43 127.20 L161.93 127.45 L161.44 127.70 L160.95 127.95 L160.46 128.20 L159.98 128.45 L159.50 128.70 L159.02 128.95 L158.54 129.20 L158.07 129.45 L157.61 129.70 L157.14 129.95 L156.68 130.20 L156.23 130.45 L155.77 130.70 L155.32 130.95 L154.88 131.20 L154.43 131.45 L153.99 131.70 L153.56 131.95 L153.12 132.20 L152.69 132.45 L152.27 132.70 L151.84 132.95 L151.42 133.20 L151.01 133.45 L150.59 133.70 L150.18 133.95 L149.78 134.20 L149.38 134.45 L148.98 134.70 L148.58 134.95 L148.19 135.20 L147.80 135.45 L147.41 135.70 L147.03 135.95 L146.65 136.20 L146.28 136.45 L145.90 136.70 L145.54 136.95 L145.17 137.20 L144.81 137.45 L144.45 137.70 L144.09 137.95 L143.74 138.20 L143.40 138.45 L143.05 138.70 L142.71 138.95 L142.37 139.20 L142.04 139.45 L141.71 139.70 L141.38 139.95 L141.06 140.20 L140.73 140.45 L140.42 140.70 L140.10 140.95 L139.79 141.20 L139.49 141.45 L139.18 141.70 L138.88 141.95 L138.59 142.20 L138.30 142.45 L138.01 142.70 L137.72 142.95 L137.44 143.20 L137.16 143.45 L136.88 143.70 L136.61 143.95 L136.34 144.20 L136.08 144.45 L135.82 144.70 L135.56 144.95 L135.31 145.20 L135.06 145.45 L134.81 145.70 L134.57 145.95 L134.33 146.20 L134.09 146.45 L133.86 146.70 L133.63 146.95 L133.40 147.20 L133.18 147.45 L132.96 147.70 L132.74 147.95 L132.53 148.20 L132.32 148.45 L132.12 148.70 L131.92 148.95 L131.72 149.20 L131.53 149.45 L131.34 149.70 L131.15 149.95 L130.97 150.20 L130.79 150.45 L130.61 150.70 L130.44 150.95 L130.27 151.20 L130.11 151.45 L129.94 151.70 L129.79 151.95 L129.63 152.20 L129.48 152.45 L129.33 152.70 L129.19 152.95 L129.05 153.20 L128.91 153.45 L128.78 153.70 L128.65 153.95 L128.53 154.20 L128.40 154.45 L128.29 154.70 L128.17 154.95 L128.06 155.20 L127.95 155.45 L127.85 155.70 L127.75 155.95 L127.65 156.20 L127.56 156.45 L127.47 156.70 L127.38 156.95 L127.30 157.20 L127.22 157.45 L127.15 157.70 L127.08 157.95 L127.01 158.20 L126.95 158.45 L126.89 158.70 L126.83 158.95 L126.78 159.20 L126.73 159.45 L126.68 159.70 L126.64 159.95 L126.60 160.20 L126.57 160.45 L126.54 160.70 L126.51 160.95 L126.48 161.20 L126.46 161.45 L126.45 161.70 L126.43 161.95 L126.43 162.20 L126.42 162.45 L126.42 162.70 L126.42 163.65 L126.43 163.90 L126.43 164.15 L126.45 164.40 L126.46 164.65 L126.48 164.90 L126.51 165.15 L126.54 165.40 L126.57 165.65 L126.60 165.90 L126.64 166.15 L126.68 166.40 L126.73 166.65 L126.78 166.90 L126.83 167.15 L126.89 167.40 L126.95 167.65 L127.01 167.90 L127.08 168.15 L127.15 168.40 L127.22 168.65 L127.30 168.90 L127.38 169.15 L127.47 169.40 L127.56 169.65 L127.65 169.90 L127.75 170.15 L127.85 170.40 L127.95 170.65 L128.06 170.90 L128.17 171.15 L128.29 171.40 L128.40 171.65 L128.53 171.90 L128.65 172.15 L128.78 172.40 L128.91 172.65 L129.05 172.90 L129.19 173.15 L129.33 173.40 L129.48 173.65 L129.63 173.90 L129.79 174.15 L129.94 174.40 L130.11 174.65 L130.27 174.90 L130.44 175.15 L130.61 175.40 L130.79 175.65 L130.97 175.90 L131.15 176.15 L131.34 176.40 L131.53 176.65 L131.72 176.90 L131.92 177.15 L132.12 177.40 L132.32 177.65 L132.53 177.90 L132.74 178.15 L132.96 178.40 L133.18 178.65 L133.40 178.90 L133.63 179.15 L133.86 179.40 L134.09 179.65 L134.33 179.90 L134.57 180.15 L134.81 180.40 L135.06 180.65 L135.31 180.90 L135.56 181.15 L135.82 181.40 L136.08 181.65 L136.34 181.90 L136.61 182.15 L136.88 182.40 L137.16 182.65 L137.44 182.90 L137.72 183.15 L138.01 183.40 L138.30 183.65 L138.59 183.90 L138.88 184.15 L139.18 184.40 L139.49 184.65 L139.79 184.90 L140.10 185.15 L140.42 185.40 L140.73 185.65 L141.06 185.90 L141.38 186.15 L141.71 186.40 L142.04 186.65 L142.37 186.90 L142.71 187.15 L143.05 187.40 L143.40 187.65 L143.74 187.90 L144.09 188.15 L144.45 188.40 L144.81 188.65 L145.17 188.90 L145.54 189.15 L145.90 189.40 L146.28 189.65 L146.65 189.90 L147.03 190.15 L147.41 190.40 L147.80 190.65 L148.19 190.90 L148.58 191.15 L148.98 191.40 L149.38 191.65 L149.78 191.90 L150.18 192.15 L150.59 192.40 L151.01 192.65 L151.42 192.90 L151.84 193.15 L152.27 193.40 L152.69 193.65 L153.12 193.90 L153.56 194.15 L153.99 194.40 L154.43 194.65 L154.88 194.90 L155.32 195.15 L155.77 195.40 L156.23 195.65 L156.68 195.90 L157.14 196.15 L157.61 196.40 L158.07 196.65 L158.54 196.90 L159.02 197.15 L159.50 197.40 L159.98 197.65 L160.46 197.90 L160.95 198.15 L161.44 198.40 L161.93 198.65 L162.43 198.90 L162.93 199.15 L163.43 199.40 L163.94 199.65 L164.45 199.90 L164.97 200.15 L165.48 200.40 L166.01 200.65 L166.53 200.90 L167.06 201.15 L167.59 201.40 L168.12 201.65 L168.66 201.90 L169.20 202.15 L169.75 202.40 L170.30 202.65 L170.85 202.90 L171.40 203.15 L171.96 203.40 L172.52 203.65 L173.09 203.90 L173.66 204.15 L174.23 204.40 L174.81 204.65 L175.39 204.90 L175.97 205.15 L176.55 205.40 L177.14 205.65 L177.74 205.90 L178.33 206.15 L178.93 206.40 L179.54 206.65 L180.14 206.90 L180.76 207.15 L181.37 207.40 L181.99 207.65 L182.61 207.90 L183.23 208.15 L183.86 208.40 L184.49 208.65 L185.13 208.90 L185.77 209.15 L186.41 209.40 L187.05 209.65 L187.70 209.90 L188.36 210.15 L189.01 210.40 L189.67 210.65 L190.34 210.90 L191.01 211.15 L191.68 211.40 L192.35 211.65 L193.03 211.90 L193.71 212.15 L194.40 212.40 L195.09 212.65 L195.78 212.90 L196.48 213.15 L197.18 213.40 L197.89 213.65 L198.60 213.90 L199.31 214.15 L200.02 214.40 L200.74 214.65 L201.47 214.90 L202.20 215.15 L202.93 215.40 L203.66 215.65 L204.40 215.90 L205.15 216.15 L205.90 216.38 L206.65 216.61 L207.40 216.84 L208.16 217.08 L208.93 217.31 L209.69 217.54 L210.47 217.77 L211.24 218.00 L212.02 218.24 L212.81 218.47 L213.59 218.70 L214.39 218.93 L215.18 219.16 L215.99 219.39 L216.79 219.62 L217.60 219.86 L218.41 220.09 L219.23 220.32 L220.06 220.55 L220.88 220.78 L221.71 221.01 L222.55 221.24 L223.39 221.47 L224.24 221.70 L225.09 221.93 L225.94 222.16 L226.80 222.39 L227.66 222.62 L228.53 222.85 L229.40 223.08 L230.28 223.31 L231.16 223.54 L232.05 223.77 L232.94 224.00 L233.84 224.23 L234.74 224.46 L235.65 224.70 L236.56 224.95 L237.48 225.21 L238.40 225.46 L239.32 225.71 L240.26 225.96 L241.19 226.21 L242.14 226.47 L243.08 226.72 L244.04 226.97 L245.00 227.22 L245.96 227.47 L246.93 227.73 L247.90 227.98 L248.88 228.23 L249.87 228.48 L250.86 228.74 L251.86 228.99 L252.86 229.24 L253.87 229.49 L254.88 229.74 L255.90 230.00 L256.93 230.25 L257.96 230.50 L258.99 230.75 L260.04 231.01 L261.09 231.26 L262.14 231.51 L263.21 231.76 L264.27 232.02 L265.35 232.27 L266.43 232.52 L267.52 232.77 L268.61 233.02 L269.71 233.28 L270.82 233.53 L271.93 233.78 L273.05 234.03 L274.18 234.29 L275.31 234.54 L276.45 234.79 L277.60 235.04 L278.75 235.30 L279.92 235.55 L281.09 235.80 L282.26 236.05 L283.44 236.31 L284.64 236.56 L285.83 236.81 L287.04 237.06 L288.25 237.31 L289.47 237.56 L290.70 237.82 L291.94 238.07 L293.18 238.32 L294.43 238.57 L295.69 238.82 L296.96 239.08 L298.24 239.33 L299.52 239.58 L300.81 239.83 L302.12 240.08 L303.43 240.34 L304.74 240.59 L306.07 240.84 L307.41 241.09 L308.75 241.34 L310.10 241.60 L311.46 241.85 L312.84 242.10 L314.22 242.35 L315.61 242.60 L317.00 242.86 L318.41 243.11 L319.83 243.36 L321.26 243.61 L322.69 243.87 L324.14 244.12 L325.60 244.37 L327.06 244.62 L328.54 244.87 L330.03 245.13 L331.52 245.38 L333.03 245.63 L334.55 245.88 L336.08 246.14 L337.62 246.39 L339.17 246.64 L340.73 246.89 L342.30 247.15 L343.88 247.40 L345.48 247.65 L347.08 247.90 L348.70 248.15 L350.33 248.40 L351.97 248.65" stroke="#1f1fff" stroke-linejoin="round"/>
<path d="M351.51 66.40 L350.54 66.65 L349.58 66.90 L348.61 67.15 L347.65 67.40 L346.70 67.65 L345.74 67.90 L344.80 68.15 L343.85 68.41 L342.91 68.67 L341.98 68.92 L341.05 69.18 L340.12 69.44 L339.19 69.70 L338.27 69.95 L337.36 70.21 L336.44 70.47 L335.53 70.73 L334.63 70.98 L333.73 71.24 L332.83 71.50 L331.94 71.75 L331.05 72.01 L330.16 72.27 L329.28 72.53 L328.40 72.78 L327.52 73.04 L326.65 73.30 L325.78 73.55 L324.92 73.81 L324.06 74.07 L323.20 74.32 L322.35 74.58 L321.50 74.84 L320.65 75.09 L319.81 75.35 L318.97 75.61 L318.13 75.86 L317.30 76.11 L316.47 76.37 L315.64 76.62 L314.82 76.88 L314.00 77.13 L313.19 77.38 L312.38 77.64 L311.57 77.89 L310.76 78.15 L309.96 78.40 L309.16 78.65 L308.37 78.91 L307.58 79.16 L306.79 79.42 L306.00 79.67 L305.22 79.92 L304.44 80.18 L303.67 80.43 L302.90 80.69 L302.13 80.94 L301.36 81.19 L300.60 81.45 L299.84 81.70 L299.08 81.95 L298.33 82.21 L297.58 82.46 L296.84 82.72 L296.09 82.97 L295.35 83.22 L294.62 83.48 L293.88 83.73 L293.15 83.98 L292.42 84.24 L291.70 84.49 L290.98 84.75 L290.26 85.00 L289.54 85.25 L288.83 85.51 L288.12 85.76 L287.42 86.01 L286.71 86.27 L286.01 86.52 L285.32 86.77 L284.62 87.03 L283.93 87.28 L283.24 87.53 L282.56 87.79 L281.87 88.04 L281.19 88.29 L280.52 88.55 L279.84 88.80 L279.17 89.05 L278.51 89.30 L277.84 89.54 L277.18 89.79 L276.52 90.04 L275.86 90.29 L275.21 90.54 L274.56 90.78 L273.91 91.03 L273.27 91.28 L272.62 91.53 L271.99 91.78 L271.35 92.03 L270.72 92.27 L270.08 92.52 L269.46 92.77 L268.83 93.02 L268.21 93.27 L267.59 93.51 L266.97 93.76 L266.36 94.01 L265.74 94.26 L265.14 94.51 L264.53 94.76 L263.93 95.00 L263.33 95.25 L262.73 95.50 L262.13 95.75 L261.54 96.00 L260.95 96.25 L260.36 96.49 L259.78 96.74 L259.19 96.99 L258.61 97.24 L258.04 97.49 L257.46 97.74 L256.89 97.98 L256.32 98.23 L255.76 98.48 L255.19 98.73 L254.63 98.98 L254.07 99.23 L253.52 99.47 L252.96 99.72 L252.41 99.97 L251.86 100.22 L251.32 100.47 L250.77 100.72 L250.23 100.96 L249.70 101.21 L249.16 101.46 L248.63 101.71 L248.10 101.96 L247.57 102.21 L247.04 102.46 L246.52 102.70 L246.00 102.95 L245.48 103.20 L244.96 103.45 L244.45 103.71 L243.94 103.96 L243.43 104.22 L242.93 104.47 L242.42 104.73 L241.92 104.98 L241.42 105.24 L240.93 105.49 L240.43 105.75 L239.94 106.00 L239.45 106.26 L238.97 106.51 L238.48 106.77 L238.00 107.02 L237.52 107.27 L237.05 107.53 L236.57 107.78 L236.10 108.04 L235.63 108.29 L235.16 108.55 L234.70 108.80 L234.24 109.06 L233.78 109.31 L233.32 109.57 L232.86 109.82 L232.41 110.08 L231.96 110.33 L231.51 110.58 L231.07 110.84 L230.62 111.09 L230.18 111.35 L229.74 111.60 L229.31 111.86 L228.87 112.11 L228.44 112.37 L228.01 112.62 L227.58 112.87 L227.16 113.13 L226.74 113.38 L226.32 113.64 L225.90 113.89 L225.48 114.15 L225.07 114.40 L224.66 114.65 L224.25 114.91 L223.84 115.16 L223.44 115.42 L223.03 115.67 L222.63 115.92 L222.24 116.18 L221.84 116.43 L221.45 116.69 L221.06 116.94 L220.67 117.19 L220.28 117.45 L219.90 117.70 L219.52 117.95 L219.14 118.21 L218.76 118.46 L218.39 118.72 L218.01 118.97 L217.64 119.22 L217.27 119.48 L216.91 119.73 L216.54 119.98 L216.18 120.24 L215.82 120.49 L215.46 120.75 L215.11 121.00 L214.76 121.24 L214.41 121.48 L214.06 121.72 L213.71 121.97 L213.37 122.21 L213.02 122.45 L212.69 122.69 L212.35 122.93 L212.01 123.17 L211.68 123.41 L211.35 123.65 L211.02 123.89 L210.69 124.14 L210.37 124.38 L210.05 124.62 L209.73 124.86 L209.41 125.10 L209.09 125.34 L208.78 125.58 L208.47 125.83 L208.16 126.07 L207.85 126.31 L207.54 126.55 L207.24 126.79 L206.94 127.04 L206.64 127.28 L206.35 127.52 L206.05 127.76 L205.76 128.00 L205.47 128.25 L205.18 128.49 L204.90 128.73 L204.61 128.97 L204.33 129.22 L204.05 129.46 L203.77 129.70 L203.50 129.94 L203.23 130.19 L202.96 130.43 L202.69 130.67 L202.42 130.91 L202.16 131.16 L201.89 131.40 L201.63 131.64 L201.37 131.89 L201.12 132.13 L200.86 132.37 L200.61 132.62 L200.36 132.86 L200.12 133.10 L199.87 133.34 L199.63 133.59 L199.39 133.83 L199.15 134.07 L198.91 134.31 L198.67 134.55 L198.44 134.79 L198.21 135.03 L197.98 135.27 L197.76 135.51 L197.53 135.75 L197.31 135.99 L197.09 136.23 L196.87 136.47 L196.65 136.72 L196.44 136.96 L196.23 137.20 L196.02 137.44 L195.81 137.68 L195.60 137.92 L195.40 138.17 L195.20 138.41 L195.00 138.65 L194.80 138.89 L194.61 139.13 L194.41 139.38 L194.22 139.62 L194.03 139.86 L193.85 140.10 L193.66 140.35 L193.48 140.59 L193.30 140.83 L193.12 141.07 L192.94 141.32 L192.77 141.56 L192.59 141.80 L192.42 142.05 L192.25 142.29 L192.09 142.53 L191.92 142.78 L191.76 143.02 L191.60 143.26 L191.44 143.51 L191.29 143.75 L191.13 144.00 L190.98 144.24 L190.83 144.48 L190.68 144.73 L190.54 144.97 L190.39 145.22 L190.25 145.46 L190.11 145.70 L189.97 145.95 L189.84 146.20 L189.71 146.45 L189.57 146.70 L189.45 146.95 L189.32 147.20 L189.19 147.45 L189.07 147.70 L188.95 147.95 L188.83 148.20 L188.71 148.45 L188.60 148.70 L188.48 148.95 L188.37 149.20 L188.26 149.45 L188.16 149.70 L188.05 149.95 L187.95 150.20 L187.85 150.45 L187.75 150.70 L187.65 150.95 L187.56 151.20 L187.47 151.45 L187.38 151.70 L187.29 151.95 L187.20 152.20 L187.12 152.45 L187.03 152.70 L186.95 152.95 L186.87 153.20 L186.80 153.45 L186.72 153.70 L186.65 153.95 L186.58 154.20 L186.51 154.45 L186.45 154.70 L186.38 154.95 L186.32 155.20 L186.26 155.45 L186.20 155.70 L186.15 155.95 L186.09 156.20 L186.04 156.45 L185.99 156.70 L185.94 156.95 L185.90 157.20 L185.85 157.45 L185.81 157.70 L185.77 157.95 L185.74 158.20 L185.70 158.45 L185.67 158.70 L185.64 158.95 L185.61 159.20 L185.58 159.45 L185.55 159.70 L185.53 159.95 L185.51 160.20 L185.49 160.45 L185.47 160.70 L185.46 160.95 L185.44 161.20 L185.43 161.45 L185.42 161.70 L185.42 161.95 L185.41 162.20 L185.41 162.45 L185.41 162.70 L185.41 163.65 L185.41 163.90 L185.42 164.15 L185.42 164.40 L185.43 164.65 L185.44 164.90 L185.46 165.15 L185.47 165.40 L185.49 165.65 L185.51 165.90 L185.53 166.15 L185.55 166.40 L185.58 166.65 L185.61 166.90 L185.64 167.15 L185.67 167.40 L185.70 167.65 L185.74 167.90 L185.77 168.15 L185.81 168.40 L185.85 168.65 L185.90 168.90 L185.94 169.15 L185.99 169.40 L186.04 169.65 L186.09 169.90 L186.15 170.15 L186.20 170.40 L186.26 170.65 L186.32 170.90 L186.38 171.15 L186.45 171.40 L186.51 171.65 L186.58 171.90 L186.65 172.15 L186.72 172.40 L186.80 172.65 L186.87 172.90 L186.95 173.15 L187.03 173.40 L187.12 173.65 L187.20 173.90 L187.29 174.15 L187.38 174.40 L187.47 174.65 L187.56 174.90 L187.65 175.15 L187.75 175.40 L187.85 175.65 L187.95 175.90 L188.05 176.15 L188.16 176.40 L188.26 176.65 L188.37 176.90 L188.48 177.15 L188.60 177.40 L188.71 177.65 L188.83 177.90 L188.95 178.15 L189.07 178.40 L189.19 178.65 L189.32 178.90 L189.45 179.15 L189.57 179.40 L189.71 179.65 L189.84 179.90 L189.97 180.15 L190.11 180.40 L190.25 180.64 L190.39 180.88 L190.54 181.13 L190.68 181.37 L190.83 181.62 L190.98 181.86 L191.13 182.10 L191.29 182.35 L191.44 182.59 L191.60 182.84 L191.76 183.08 L191.92 183.32 L192.09 183.57 L192.25 183.81 L192.42 184.05 L192.59 184.30 L192.77 184.54 L192.94 184.78 L193.12 185.03 L193.30 185.27 L193.48 185.51 L193.66 185.75 L193.85 186.00 L194.03 186.24 L194.22 186.48 L194.41 186.72 L194.61 186.97 L194.80 187.21 L195.00 187.45 L195.20 187.69 L195.40 187.93 L195.60 188.18 L195.81 188.42 L196.02 188.66 L196.23 188.90 L196.44 189.14 L196.65 189.38 L196.87 189.63 L197.09 189.87 L197.31 190.11 L197.53 190.35 L197.76 190.59 L197.98 190.83 L198.21 191.07 L198.44 191.31 L198.67 191.55 L198.91 191.79 L199.15 192.03 L199.39 192.27 L199.63 192.51 L199.87 192.76 L200.12 193.00 L200.36 193.24 L200.61 193.48 L200.86 193.73 L201.12 193.97 L201.37 194.21 L201.63 194.46 L201.89 194.70 L202.16 194.94 L202.42 195.19 L202.69 195.43 L202.96 195.67 L203.23 195.91 L203.50 196.16 L203.77 196.40 L204.05 196.64 L204.33 196.88 L204.61 197.13 L204.90 197.37 L205.18 197.61 L205.47 197.85 L205.76 198.10 L206.05 198.34 L206.35 198.58 L206.64 198.82 L206.94 199.06 L207.24 199.31 L207.54 199.55 L207.85 199.79 L208.16 200.03 L208.47 200.27 L208.78 200.52 L209.09 200.76 L209.41 201.00 L209.73 201.24 L210.05 201.48 L210.37 201.72 L210.69 201.96 L211.02 202.21 L211.35 202.45 L211.68 202.69 L212.01 202.93 L212.35 203.17 L212.69 203.41 L213.02 203.65 L213.37 203.89 L213.71 204.13 L214.06 204.38 L214.41 204.62 L214.76 204.86 L215.11 205.10 L215.46 205.35 L215.82 205.61 L216.18 205.86 L216.54 206.12 L216.91 206.37 L217.27 206.62 L217.64 206.88 L218.01 207.13 L218.39 207.38 L218.76 207.64 L219.14 207.89 L219.52 208.15 L219.90 208.40 L220.28 208.65 L220.67 208.91 L221.06 209.16 L221.45 209.41 L221.84 209.67 L222.24 209.92 L222.63 210.18 L223.03 210.43 L223.44 210.68 L223.84 210.94 L224.25 211.19 L224.66 211.45 L225.07 211.70 L225.48 211.95 L225.90 212.21 L226.32 212.46 L226.74 212.72 L227.16 212.97 L227.58 213.23 L228.01 213.48 L228.44 213.73 L228.87 213.99 L229.31 214.24 L229.74 214.50 L230.18 214.75 L230.62 215.01 L231.07 215.26 L231.51 215.52 L231.96 215.77 L232.41 216.02 L232.86 216.28 L233.32 216.53 L233.78 216.79 L234.24 217.04 L234.70 217.30 L235.16 217.55 L235.63 217.81 L236.10 218.06 L236.57 218.32 L237.05 218.57 L237.52 218.83 L238.00 219.08 L238.48 219.33 L238.97 219.59 L239.45 219.84 L239.94 220.10 L240.43 220.35 L240.93 220.61 L241.42 220.86 L241.92 221.12 L242.42 221.37 L242.93 221.63 L243.43 221.88 L243.94 222.14 L244.45 222.39 L244.96 222.65 L245.48 222.90 L246.00 223.15 L246.52 223.40 L247.04 223.64 L247.57 223.89 L248.10 224.14 L248.63 224.39 L249.16 224.64 L249.70 224.89 L250.23 225.14 L250.77 225.38 L251.32 225.63 L251.86 225.88 L252.41 226.13 L252.96 226.38 L253.52 226.63 L254.07 226.87 L254.63 227.12 L255.19 227.37 L255.76 227.62 L256.32 227.87 L256.89 228.12 L257.46 228.36 L258.04 228.61 L258.61 228.86 L259.19 229.11 L259.78 229.36 L260.36 229.61 L260.95 229.85 L261.54 230.10 L262.13 230.35 L262.73 230.60 L263.33 230.85 L263.93 231.10 L264.53 231.34 L265.14 231.59 L265.74 231.84 L266.36 232.09 L266.97 232.34 L267.59 232.59 L268.21 232.83 L268.83 233.08 L269.46 233.33 L270.08 233.58 L270.72 233.83 L271.35 234.07 L271.99 234.32 L272.62 234.57 L273.27 234.82 L273.91 235.07 L274.56 235.32 L275.21 235.56 L275.86 235.81 L276.52 236.06 L277.18 236.31 L277.84 236.56 L278.51 236.80 L279.17 237.05 L279.84 237.30 L280.52 237.55 L281.19 237.81 L281.87 238.06 L282.56 238.31 L283.24 238.57 L283.93 238.82 L284.62 239.07 L285.32 239.33 L286.01 239.58 L286.71 239.83 L287.42 240.09 L288.12 240.34 L288.83 240.59 L289.54 240.85 L290.26 241.10 L290.98 241.35 L291.70 241.61 L292.42 241.86 L293.15 242.12 L293.88 242.37 L294.62 242.62 L295.35 242.88 L296.09 243.13 L296.84 243.38 L297.58 243.64 L298.33 243.89 L299.08 244.15 L299.84 244.40 L300.60 244.65 L301.36 244.91 L302.13 245.16 L302.90 245.41 L303.67 245.67 L304.44 245.92 L305.22 246.18 L306.00 246.43 L306.79 246.68 L307.58 246.94 L308.37 247.19 L309.16 247.45 L309.96 247.70 L310.76 247.95 L311.57 248.21 L312.38 248.46 L313.19 248.72 L314.00 248.97 L314.82 249.22 L315.64 249.48 L316.47 249.73 L317.30 249.99 L318.13 250.24 L318.97 250.49 L319.81 250.75 L320.65 251.01 L321.50 251.26 L322.35 251.52 L323.20 251.78 L324.06 252.03 L324.92 252.29 L325.78 252.55 L326.65 252.80 L327.52 253.06 L328.40 253.32 L329.28 253.57 L330.16 253.83 L331.05 254.09 L331.94 254.35 L332.83 254.60 L333.73 254.86 L334.63 255.12 L335.53 255.37 L336.44 255.63 L337.36 255.89 L338.27 256.15 L339.19 256.40 L340.12 256.66 L341.05 256.92 L341.98 257.18 L342.91 257.43 L343.85 257.69 L344.80 257.95 L345.74 258.20 L346.70 258.45 L347.65 258.70 L348.61 258.95 L349.58 259.20 L350.54 259.45 L351.51 259.70" stroke="#ff2020" stroke-linejoin="round"/>
<path d="M351.22 63.70 L350.40 63.95 L349.59 64.20 L348.78 64.45 L347.97 64.70 L347.17 64.95 L346.37 65.20 L345.57 65.45 L344.78 65.70 L343.99 65.97 L343.21 66.23 L342.42 66.49 L341.65 66.76 L340.87 67.02 L340.10 67.28 L339.34 67.55 L338.57 67.81 L337.81 68.07 L337.06 68.34 L336.30 68.60 L335.56 68.86 L334.81 69.12 L334.07 69.39 L333.33 69.65 L332.59 69.91 L331.86 70.18 L331.13 70.44 L330.41 70.70 L329.69 70.96 L328.97 71.22 L328.25 71.49 L327.54 71.75 L326.83 72.01 L326.13 72.27 L325.42 72.54 L324.73 72.80 L324.03 73.06 L323.34 73.32 L322.65 73.58 L321.96 73.84 L321.28 74.11 L320.60 74.37 L319.92 74.63 L319.25 74.89 L318.58 75.15 L317.91 75.41 L317.25 75.68 L316.59 75.94 L315.93 76.20 L315.28 76.46 L314.62 76.72 L313.98 76.98 L313.33 77.24 L312.69 77.50 L312.05 77.76 L311.41 78.03 L310.78 78.29 L310.15 78.55 L309.52 78.82 L308.89 79.09 L308.27 79.37 L307.65 79.64 L307.04 79.92 L306.42 80.19 L305.81 80.47 L305.20 80.74 L304.60 81.02 L304.00 81.29 L303.40 81.56 L302.80 81.84 L302.21 82.11 L301.62 82.39 L301.03 82.66 L300.44 82.93 L299.86 83.20 L299.28 83.46 L298.70 83.71 L298.13 83.97 L297.56 84.22 L296.99 84.48 L296.42 84.74 L295.86 84.99 L295.30 85.25 L294.74 85.50 L294.18 85.76 L293.63 86.01 L293.08 86.27 L292.53 86.52 L291.99 86.78 L291.44 87.04 L290.90 87.29 L290.37 87.55 L289.83 87.80 L289.30 88.06 L288.77 88.31 L288.24 88.57 L287.72 88.82 L287.19 89.08 L286.67 89.33 L286.16 89.59 L285.64 89.84 L285.13 90.10 L284.62 90.35 L284.11 90.61 L283.61 90.86 L283.10 91.12 L282.60 91.37 L282.11 91.63 L281.61 91.88 L281.12 92.14 L280.63 92.39 L280.14 92.65 L279.65 92.90 L279.17 93.16 L278.69 93.41 L278.21 93.67 L277.73 93.92 L277.26 94.18 L276.78 94.43 L276.31 94.69 L275.85 94.94 L275.38 95.20 L274.92 95.45 L274.46 95.71 L274.00 95.96 L273.54 96.21 L273.09 96.47 L272.64 96.72 L272.19 96.98 L271.74 97.23 L271.30 97.49 L270.85 97.74 L270.41 98.00 L269.97 98.25 L269.54 98.50 L269.10 98.76 L268.67 99.01 L268.24 99.26 L267.81 99.52 L267.39 99.77 L266.97 100.02 L266.54 100.27 L266.13 100.53 L265.71 100.78 L265.29 101.03 L264.88 101.29 L264.47 101.54 L264.06 101.79 L263.66 102.05 L263.25 102.30 L262.85 102.55 L262.45 102.80 L262.05 103.06 L261.65 103.31 L261.26 103.56 L260.87 103.82 L260.48 104.07 L260.09 104.32 L259.70 104.57 L259.32 104.83 L258.94 105.08 L258.56 105.33 L258.18 105.58 L257.81 105.84 L257.43 106.09 L257.06 106.34 L256.69 106.60 L256.32 106.85 L255.96 107.10 L255.59 107.35 L255.23 107.60 L254.87 107.86 L254.51 108.11 L254.15 108.36 L253.80 108.61 L253.45 108.87 L253.10 109.12 L252.75 109.37 L252.40 109.62 L252.06 109.87 L251.71 110.13 L251.37 110.38 L251.03 110.63 L250.70 110.88 L250.36 111.14 L250.03 111.39 L249.70 111.64 L249.37 111.89 L249.04 112.14 L248.71 112.40 L248.39 112.65 L248.07 112.90 L247.74 113.15 L247.43 113.40 L247.11 113.66 L246.79 113.91 L246.48 114.16 L246.17 114.41 L245.86 114.66 L245.55 114.92 L245.25 115.17 L244.94 115.42 L244.64 115.67 L244.34 115.92 L244.04 116.17 L243.74 116.43 L243.45 116.68 L243.15 116.93 L242.86 117.18 L242.57 117.43 L242.28 117.69 L242.00 117.94 L241.71 118.19 L241.43 118.44 L241.15 118.69 L240.87 118.94 L240.59 119.20 L240.32 119.45 L240.04 119.70 L239.77 119.95 L239.50 120.20 L239.23 120.45 L238.96 120.70 L238.70 120.95 L238.43 121.20 L238.17 121.45 L237.91 121.70 L237.65 121.95 L237.39 122.20 L237.14 122.45 L236.88 122.70 L236.63 122.95 L236.38 123.20 L236.13 123.45 L235.88 123.70 L235.64 123.95 L235.40 124.20 L235.15 124.45 L234.91 124.70 L234.67 124.95 L234.44 125.20 L234.20 125.45 L233.97 125.70 L233.74 125.95 L233.51 126.20 L233.28 126.45 L233.05 126.70 L232.82 126.95 L232.60 127.20 L232.38 127.45 L232.16 127.70 L231.94 127.94 L231.72 128.18 L231.50 128.41 L231.29 128.64 L231.08 128.87 L230.87 129.10 L230.66 129.33 L230.45 129.57 L230.24 129.80 L230.04 130.03 L229.84 130.26 L229.63 130.50 L229.43 130.73 L229.24 130.96 L229.04 131.20 L228.84 131.43 L228.65 131.66 L228.46 131.90 L228.27 132.13 L228.08 132.36 L227.89 132.60 L227.71 132.83 L227.52 133.07 L227.34 133.30 L227.16 133.54 L226.98 133.77 L226.80 134.00 L226.63 134.24 L226.45 134.47 L226.28 134.71 L226.11 134.95 L225.94 135.18 L225.77 135.42 L225.60 135.65 L225.44 135.89 L225.27 136.12 L225.11 136.36 L224.95 136.60 L224.79 136.83 L224.64 137.07 L224.48 137.31 L224.32 137.55 L224.17 137.79 L224.02 138.03 L223.87 138.27 L223.72 138.50 L223.58 138.74 L223.43 138.98 L223.29 139.22 L223.14 139.46 L223.00 139.70 L222.86 139.94 L222.73 140.18 L222.59 140.42 L222.46 140.66 L222.32 140.90 L222.19 141.14 L222.06 141.38 L221.93 141.62 L221.80 141.86 L221.68 142.10 L221.56 142.34 L221.43 142.58 L221.31 142.82 L221.19 143.06 L221.07 143.31 L220.96 143.54 L220.84 143.78 L220.73 144.01 L220.62 144.24 L220.51 144.48 L220.40 144.71 L220.29 144.94 L220.18 145.18 L220.08 145.41 L219.98 145.65 L219.87 145.88 L219.77 146.12 L219.67 146.35 L219.58 146.59 L219.48 146.82 L219.39 147.06 L219.29 147.29 L219.20 147.53 L219.11 147.77 L219.03 148.00 L218.94 148.24 L218.85 148.48 L218.77 148.72 L218.69 148.95 L218.61 149.19 L218.53 149.43 L218.45 149.67 L218.37 149.91 L218.30 150.14 L218.22 150.38 L218.15 150.62 L218.08 150.86 L218.01 151.10 L217.94 151.34 L217.88 151.58 L217.81 151.82 L217.75 152.06 L217.69 152.30 L217.63 152.54 L217.57 152.79 L217.51 153.03 L217.45 153.27 L217.40 153.51 L217.35 153.75 L217.30 153.99 L217.24 154.24 L217.20 154.48 L217.15 154.72 L217.10 154.97 L217.06 155.21 L217.02 155.45 L216.97 155.70 L216.93 155.95 L216.90 156.20 L216.86 156.45 L216.82 156.70 L216.79 156.95 L216.76 157.20 L216.73 157.45 L216.70 157.70 L216.67 157.95 L216.64 158.20 L216.61 158.45 L216.59 158.70 L216.57 158.95 L216.55 159.20 L216.53 159.45 L216.51 159.70 L216.49 159.95 L216.48 160.20 L216.46 160.45 L216.45 160.70 L216.44 160.95 L216.43 161.20 L216.42 161.45 L216.42 161.70 L216.41 161.95 L216.41 162.20 L216.41 162.45 L216.41 162.70 L216.41 163.65 L216.41 163.90 L216.41 164.15 L216.42 164.40 L216.42 164.65 L216.43 164.90 L216.44 165.15 L216.45 165.40 L216.46 165.65 L216.48 165.90 L216.49 166.15 L216.51 166.40 L216.53 166.65 L216.55 166.90 L216.57 167.15 L216.59 167.40 L216.61 167.65 L216.64 167.90 L216.67 168.15 L216.70 168.40 L216.73 168.65 L216.76 168.90 L216.79 169.15 L216.82 169.40 L216.86 169.65 L216.90 169.90 L216.93 170.15 L216.97 170.40 L217.02 170.65 L217.06 170.89 L217.10 171.13 L217.15 171.38 L217.20 171.62 L217.24 171.86 L217.30 172.11 L217.35 172.35 L217.40 172.59 L217.45 172.83 L217.51 173.07 L217.57 173.31 L217.63 173.56 L217.69 173.80 L217.75 174.04 L217.81 174.28 L217.88 174.52 L217.94 174.76 L218.01 175.00 L218.08 175.24 L218.15 175.48 L218.22 175.72 L218.30 175.96 L218.37 176.19 L218.45 176.43 L218.53 176.67 L218.61 176.91 L218.69 177.15 L218.77 177.38 L218.85 177.62 L218.94 177.86 L219.03 178.10 L219.11 178.33 L219.20 178.57 L219.29 178.81 L219.39 179.04 L219.48 179.28 L219.58 179.51 L219.67 179.75 L219.77 179.98 L219.87 180.22 L219.98 180.45 L220.08 180.69 L220.18 180.92 L220.29 181.16 L220.40 181.39 L220.51 181.62 L220.62 181.86 L220.73 182.09 L220.84 182.32 L220.96 182.56 L221.07 182.79 L221.19 183.04 L221.31 183.28 L221.43 183.52 L221.56 183.76 L221.68 184.00 L221.80 184.24 L221.93 184.48 L222.06 184.72 L222.19 184.96 L222.32 185.20 L222.46 185.44 L222.59 185.68 L222.73 185.92 L222.86 186.16 L223.00 186.40 L223.14 186.64 L223.29 186.88 L223.43 187.12 L223.58 187.36 L223.72 187.60 L223.87 187.83 L224.02 188.07 L224.17 188.31 L224.32 188.55 L224.48 188.79 L224.64 189.03 L224.79 189.27 L224.95 189.50 L225.11 189.74 L225.27 189.98 L225.44 190.21 L225.60 190.45 L225.77 190.68 L225.94 190.92 L226.11 191.15 L226.28 191.39 L226.45 191.63 L226.63 191.86 L226.80 192.10 L226.98 192.33 L227.16 192.56 L227.34 192.80 L227.52 193.03 L227.71 193.27 L227.89 193.50 L228.08 193.74 L228.27 193.97 L228.46 194.20 L228.65 194.44 L228.84 194.67 L229.04 194.90 L229.24 195.14 L229.43 195.37 L229.63 195.60 L229.84 195.84 L230.04 196.07 L230.24 196.30 L230.45 196.53 L230.66 196.77 L230.87 197.00 L231.08 197.23 L231.29 197.46 L231.50 197.69 L231.72 197.92 L231.94 198.16 L232.16 198.40 L232.38 198.65 L232.60 198.90 L232.82 199.15 L233.05 199.40 L233.28 199.65 L233.51 199.90 L233.74 200.15 L233.97 200.40 L234.20 200.65 L234.44 200.90 L234.67 201.15 L234.91 201.40 L235.15 201.65 L235.40 201.90 L235.64 202.15 L235.88 202.40 L236.13 202.65 L236.38 202.90 L236.63 203.15 L236.88 203.40 L237.14 203.65 L237.39 203.90 L237.65 204.15 L237.91 204.40 L238.17 204.65 L238.43 204.90 L238.70 205.15 L238.96 205.40 L239.23 205.65 L239.50 205.90 L239.77 206.15 L240.04 206.40 L240.32 206.65 L240.59 206.90 L240.87 207.16 L241.15 207.41 L241.43 207.66 L241.71 207.91 L242.00 208.16 L242.28 208.41 L242.57 208.67 L242.86 208.92 L243.15 209.17 L243.45 209.42 L243.74 209.67 L244.04 209.93 L244.34 210.18 L244.64 210.43 L244.94 210.68 L245.25 210.93 L245.55 211.18 L245.86 211.44 L246.17 211.69 L246.48 211.94 L246.79 212.19 L247.11 212.44 L247.43 212.70 L247.74 212.95 L248.07 213.20 L248.39 213.45 L248.71 213.70 L249.04 213.96 L249.37 214.21 L249.70 214.46 L250.03 214.71 L250.36 214.96 L250.70 215.22 L251.03 215.47 L251.37 215.72 L251.71 215.97 L252.06 216.23 L252.40 216.48 L252.75 216.73 L253.10 216.98 L253.45 217.23 L253.80 217.49 L254.15 217.74 L254.51 217.99 L254.87 218.24 L255.23 218.50 L255.59 218.75 L255.96 219.00 L256.32 219.25 L256.69 219.50 L257.06 219.76 L257.43 220.01 L257.81 220.26 L258.18 220.52 L258.56 220.77 L258.94 221.02 L259.32 221.27 L259.70 221.53 L260.09 221.78 L260.48 222.03 L260.87 222.28 L261.26 222.54 L261.65 222.79 L262.05 223.04 L262.45 223.30 L262.85 223.55 L263.25 223.80 L263.66 224.05 L264.06 224.31 L264.47 224.56 L264.88 224.81 L265.29 225.07 L265.71 225.32 L266.13 225.57 L266.54 225.83 L266.97 226.08 L267.39 226.33 L267.81 226.58 L268.24 226.84 L268.67 227.09 L269.10 227.34 L269.54 227.60 L269.97 227.85 L270.41 228.10 L270.85 228.36 L271.30 228.61 L271.74 228.87 L272.19 229.12 L272.64 229.38 L273.09 229.63 L273.54 229.89 L274.00 230.14 L274.46 230.39 L274.92 230.65 L275.38 230.90 L275.85 231.16 L276.31 231.41 L276.78 231.67 L277.26 231.92 L277.73 232.18 L278.21 232.43 L278.69 232.69 L279.17 232.94 L279.65 233.20 L280.14 233.45 L280.63 233.71 L281.12 233.96 L281.61 234.22 L282.11 234.47 L282.60 234.73 L283.10 234.98 L283.61 235.24 L284.11 235.49 L284.62 235.75 L285.13 236.00 L285.64 236.26 L286.16 236.51 L286.67 236.77 L287.19 237.02 L287.72 237.28 L288.24 237.53 L288.77 237.79 L289.30 238.04 L289.83 238.30 L290.37 238.55 L290.90 238.81 L291.44 239.06 L291.99 239.32 L292.53 239.58 L293.08 239.83 L293.63 240.09 L294.18 240.34 L294.74 240.60 L295.30 240.85 L295.86 241.11 L296.42 241.36 L296.99 241.62 L297.56 241.88 L298.13 242.13 L298.70 242.39 L299.28 242.64 L299.86 242.90 L300.44 243.17 L301.03 243.44 L301.62 243.71 L302.21 243.99 L302.80 244.26 L303.40 244.54 L304.00 244.81 L304.60 245.08 L305.20 245.36 L305.81 245.63 L306.42 245.91 L307.04 246.18 L307.65 246.46 L308.27 246.73 L308.89 247.01 L309.52 247.28 L310.15 247.55 L310.78 247.81 L311.41 248.07 L312.05 248.34 L312.69 248.60 L313.33 248.86 L313.98 249.12 L314.62 249.38 L315.28 249.64 L315.93 249.90 L316.59 250.16 L317.25 250.42 L317.91 250.69 L318.58 250.95 L319.25 251.21 L319.92 251.47 L320.60 251.73 L321.28 251.99 L321.96 252.26 L322.65 252.52 L323.34 252.78 L324.03 253.04 L324.73 253.30 L325.42 253.56 L326.13 253.83 L326.83 254.09 L327.54 254.35 L328.25 254.61 L328.97 254.88 L329.69 255.14 L330.41 255.40 L331.13 255.66 L331.86 255.92 L332.59 256.19 L333.33 256.45 L334.07 256.71 L334.81 256.98 L335.56 257.24 L336.30 257.50 L337.06 257.76 L337.81 258.03 L338.57 258.29 L339.34 258.55 L340.10 258.82 L340.87 259.08 L341.65 259.34 L342.42 259.61 L343.21 259.87 L343.99 260.13 L344.78 260.40 L345.57 260.65 L346.37 260.90 L347.17 261.15 L347.97 261.40 L348.78 261.65 L349.59 261.90 L350.40 262.15 L351.22 262.40" stroke="#20ff20" stroke-linejoin="round"/>
</g>
<g stroke="#2a2a2a" stroke-width="1.1"><line x1="64.89" y1="306.95" x2="64.89" y2="305.35"/><line x1="77.29" y1="306.95" x2="77.29" y2="305.35"/><line x1="89.70" y1="306.95" x2="89.70" y2="304.35"/><line x1="102.11" y1="306.95" x2="102.11" y2="305.35"/><line x1="114.51" y1="306.95" x2="114.51" y2="305.35"/><line x1="126.91" y1="306.95" x2="126.91" y2="305.35"/><line x1="139.32" y1="306.95" x2="139.32" y2="304.35"/><line x1="151.72" y1="306.95" x2="151.72" y2="305.35"/><line x1="164.13" y1="306.95" x2="164.13" y2="305.35"/><line x1="176.54" y1="306.95" x2="176.54" y2="305.35"/><line x1="188.94" y1="306.95" x2="188.94" y2="304.35"/><line x1="201.34" y1="306.95" x2="201.34" y2="305.35"/><line x1="213.75" y1="306.95" x2="213.75" y2="305.35"/><line x1="226.16" y1="306.95" x2="226.16" y2="305.35"/><line x1="238.56" y1="306.95" x2="238.56" y2="304.35"/><line x1="250.96" y1="306.95" x2="250.96" y2="305.35"/><line x1="263.37" y1="306.95" x2="263.37" y2="305.35"/><line x1="275.77" y1="306.95" x2="275.77" y2="305.35"/><line x1="288.18" y1="306.95" x2="288.18" y2="304.35"/><line x1="300.59" y1="306.95" x2="300.59" y2="305.35"/><line x1="312.99" y1="306.95" x2="312.99" y2="305.35"/><line x1="325.39" y1="306.95" x2="325.39" y2="305.35"/><line x1="337.80" y1="306.95" x2="337.80" y2="304.35"/><line x1="54.85" y1="295.74" x2="56.45" y2="295.74"/><line x1="54.85" y1="284.66" x2="56.45" y2="284.66"/><line x1="54.85" y1="273.59" x2="57.45" y2="273.59"/><line x1="54.85" y1="262.52" x2="56.45" y2="262.52"/><line x1="54.85" y1="251.44" x2="56.45" y2="251.44"/><line x1="54.85" y1="240.37" x2="56.45" y2="240.37"/><line x1="54.85" y1="229.29" x2="56.45" y2="229.29"/><line x1="54.85" y1="218.22" x2="57.45" y2="218.22"/><line x1="54.85" y1="207.15" x2="56.45" y2="207.15"/><line x1="54.85" y1="196.07" x2="56.45" y2="196.07"/><line x1="54.85" y1="185.00" x2="56.45" y2="185.00"/><line x1="54.85" y1="173.92" x2="56.45" y2="173.92"/><line x1="54.85" y1="162.85" x2="57.45" y2="162.85"/><line x1="54.85" y1="151.78" x2="56.45" y2="151.78"/><line x1="54.85" y1="140.70" x2="56.45" y2="140.70"/><line x1="54.85" y1="129.63" x2="56.45" y2="129.63"/><line x1="54.85" y1="118.55" x2="56.45" y2="118.55"/><line x1="54.85" y1="107.48" x2="57.45" y2="107.48"/><line x1="54.85" y1="96.41" x2="56.45" y2="96.41"/><line x1="54.85" y1="85.33" x2="56.45" y2="85.33"/><line x1="54.85" y1="74.26" x2="56.45" y2="74.26"/><line x1="54.85" y1="63.18" x2="56.45" y2="63.18"/><line x1="54.85" y1="52.11" x2="57.45" y2="52.11"/><line x1="54.85" y1="41.04" x2="56.45" y2="41.04"/><line x1="54.85" y1="29.96" x2="56.45" y2="29.96"/></g>
<rect x="54.85" y="18.85" width="287.90" height="288.10" fill="none" stroke="#404040" stroke-width="1.4"/>
<g fill="none" stroke-width="1.5">
<line x1="72.1" y1="58.3" x2="81.9" y2="58.3" stroke="#1f1fff"/>
<line x1="72.1" y1="78.05" x2="81.9" y2="78.05" stroke="#ff2020"/>
<line x1="72.1" y1="97.85" x2="81.9" y2="97.85" stroke="#20ff20"/>
<line x1="67.8" y1="245.4" x2="84.5" y2="245.4" stroke="#8d0f99" stroke-width="1.35" stroke-dasharray="3.6 2.95"/>
<line x1="67.8" y1="265.2" x2="84.5" y2="265.2" stroke="#ff8a18" stroke-width="1.35" stroke-dasharray="3.6 2.95"/>
<line x1="67.8" y1="285.1" x2="84.5" y2="285.1" stroke="#20ffff" stroke-width="1.35" stroke-dasharray="3.6 2.95"/>
</g>
<g font-family="Liberation Sans, sans-serif" fill="#111"><text transform="translate(89.90,319.0) scale(1,1.05)" font-size="11.6" text-anchor="middle">1.0</text><text transform="translate(139.52,319.0) scale(1,1.05)" font-size="11.6" text-anchor="middle">1.2</text><text transform="translate(189.14,319.0) scale(1,1.05)" font-size="11.6" text-anchor="middle">1.4</text><text transform="translate(238.76,319.0) scale(1,1.05)" font-size="11.6" text-anchor="middle">1.6</text><text transform="translate(288.38,319.0) scale(1,1.05)" font-size="11.6" text-anchor="middle">1.8</text><text transform="translate(338.00,319.0) scale(1,1.05)" font-size="11.6" text-anchor="middle">2.0</text><text transform="translate(53.2,56.01) scale(1,1.05)" font-size="11.6" text-anchor="end">2</text><text transform="translate(53.2,111.38) scale(1,1.05)" font-size="11.6" text-anchor="end">1</text><text transform="translate(53.2,166.75) scale(1,1.05)" font-size="11.6" text-anchor="end">0</text><text transform="translate(53.2,222.12) scale(1,1.05)" font-size="11.6" text-anchor="end">−1</text><text transform="translate(53.2,277.49) scale(1,1.05)" font-size="11.6" text-anchor="end">−2</text><text transform="translate(87.00,60.60) scale(1,1.045)" font-size="11.55">N=2 5D</text><text transform="translate(87.00,80.30) scale(1,1.045)" font-size="11.55">N=4</text><text transform="translate(87.00,100.00) scale(1,1.045)" font-size="11.55">N=inf</text><text transform="translate(146.2,60.4) scale(1,1.09)" font-size="11.3">a<tspan font-size="8.6" dy="1.6" dx="0.2" font-style="italic" fill="#555">n</tspan><tspan dy="-1.6" dx="0.3">=</tspan><tspan font-style="italic" dx="-0.45">α</tspan><tspan dx="0.7">^(</tspan><tspan font-style="italic" dx="0.5">n</tspan><tspan dx="2.7">−</tspan><tspan dx="3.7">1</tspan><tspan dx="-0.3">)</tspan></text><text transform="translate(92.20,247.30) scale(1,1.045)" font-size="11.55">N=2 6D</text><text transform="translate(92.20,267.00) scale(1,1.045)" font-size="11.55">N=4</text><text transform="translate(92.20,286.90) scale(1,1.045)" font-size="11.55">N=inf</text><text transform="translate(150.7,247.0) scale(1,1.09)" font-size="11.3">a<tspan font-size="8.6" dy="1.6" dx="0.2" font-style="italic" fill="#555">n</tspan><tspan dy="-1.6" dx="0.3">=</tspan><tspan font-style="italic" dx="-0.45">α</tspan><tspan dx="0.7">^(</tspan><tspan font-style="italic" dx="0.5">n</tspan><tspan dx="2.7">−</tspan><tspan dx="3.7">1</tspan><tspan dx="-0.3">)</tspan></text><text x="239.20" y="56.30" font-size="14.00" text-anchor="start" font-weight="bold"><tspan font-style="italic" font-size="15.5">α</tspan><tspan x="253.0">=</tspan><tspan x="265.3">1</tspan></text><text x="198.70" y="338.40" font-size="17.00" text-anchor="middle" font-weight="bold" font-style="italic">ρ</text><text transform="translate(33.5,162.85) rotate(-90)" font-size="18" text-anchor="middle" font-weight="bold">z</text></g>
</svg></body></html>
